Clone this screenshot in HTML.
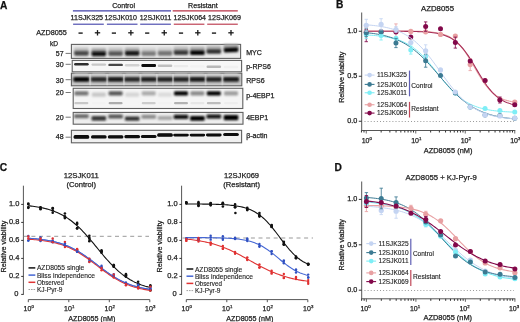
<!DOCTYPE html>
<html><head><meta charset="utf-8"><style>
html,body{margin:0;padding:0;background:#fff;width:520px;height:322px;overflow:hidden}
svg{display:block;font-family:"Liberation Sans", sans-serif;will-change:transform}
</style></head><body>
<svg width="520" height="322" viewBox="0 0 520 322">
<rect width="520" height="322" fill="#fff"/>
<text x="0" y="8.6" font-size="10.2" text-anchor="start" font-weight="bold" fill="#111" stroke="#111" stroke-width="0.25" >A</text>
<text x="336.0" y="8.3" font-size="10.2" text-anchor="start" font-weight="bold" fill="#111" stroke="#111" stroke-width="0.25" >B</text>
<text x="-0.2" y="171.0" font-size="10.2" text-anchor="start" font-weight="bold" fill="#111" stroke="#111" stroke-width="0.25" >C</text>
<text x="334.6" y="170.7" font-size="10.2" text-anchor="start" font-weight="bold" fill="#111" stroke="#111" stroke-width="0.25" >D</text>
<text x="112.2" y="7.6" font-size="7.1" text-anchor="start" font-weight="normal" fill="#1e1e1e" stroke="#1e1e1e" stroke-width="0.25" textLength="22.8" lengthAdjust="spacingAndGlyphs" >Control</text>
<text x="188.1" y="7.7" font-size="7.1" text-anchor="start" font-weight="normal" fill="#1e1e1e" stroke="#1e1e1e" stroke-width="0.25" textLength="29.6" lengthAdjust="spacingAndGlyphs" >Resistant</text>
<line x1="72.9" y1="10.9" x2="171.0" y2="10.9" stroke="#4040a8" stroke-width="1.1" />
<line x1="172.7" y1="10.9" x2="237.8" y2="10.9" stroke="#b83246" stroke-width="1.1" />
<text x="70.6" y="20.2" font-size="7.2" text-anchor="start" font-weight="normal" fill="#1e1e1e" stroke="#1e1e1e" stroke-width="0.25" textLength="32.5" lengthAdjust="spacingAndGlyphs" >11SJK325</text>
<text x="104.4" y="20.2" font-size="7.2" text-anchor="start" font-weight="normal" fill="#1e1e1e" stroke="#1e1e1e" stroke-width="0.25" textLength="32.5" lengthAdjust="spacingAndGlyphs" >12SJK010</text>
<text x="139.7" y="20.2" font-size="7.2" text-anchor="start" font-weight="normal" fill="#1e1e1e" stroke="#1e1e1e" stroke-width="0.25" textLength="31.6" lengthAdjust="spacingAndGlyphs" >12SJK011</text>
<text x="173.5" y="20.2" font-size="7.2" text-anchor="start" font-weight="normal" fill="#1e1e1e" stroke="#1e1e1e" stroke-width="0.25" textLength="32.5" lengthAdjust="spacingAndGlyphs" >12SJK064</text>
<text x="208.1" y="20.2" font-size="7.2" text-anchor="start" font-weight="normal" fill="#1e1e1e" stroke="#1e1e1e" stroke-width="0.25" textLength="32.9" lengthAdjust="spacingAndGlyphs" >12SJK069</text>
<line x1="73.1" y1="24.2" x2="103.8" y2="24.2" stroke="#4040a8" stroke-width="1.1" />
<line x1="106.9" y1="24.2" x2="137.5" y2="24.2" stroke="#4040a8" stroke-width="1.1" />
<line x1="140.2" y1="24.2" x2="170.9" y2="24.2" stroke="#4040a8" stroke-width="1.1" />
<line x1="173.8" y1="24.2" x2="204.4" y2="24.2" stroke="#b83246" stroke-width="1.1" />
<line x1="207.2" y1="24.2" x2="237.8" y2="24.2" stroke="#b83246" stroke-width="1.1" />
<text x="36.2" y="34.7" font-size="7.2" text-anchor="start" font-weight="normal" fill="#1e1e1e" stroke="#1e1e1e" stroke-width="0.25" textLength="30.7" lengthAdjust="spacingAndGlyphs" >AZD8055</text>
<line x1="78.5" y1="33.1" x2="82.69999999999999" y2="33.1" stroke="#1a1a1a" stroke-width="1.4" />
<line x1="94.8" y1="32.8" x2="100.2" y2="32.8" stroke="#1a1a1a" stroke-width="1.3" />
<line x1="97.5" y1="30.1" x2="97.5" y2="35.5" stroke="#1a1a1a" stroke-width="1.3" />
<line x1="111.80000000000001" y1="33.1" x2="116.0" y2="33.1" stroke="#1a1a1a" stroke-width="1.4" />
<line x1="128.20000000000002" y1="32.8" x2="133.6" y2="32.8" stroke="#1a1a1a" stroke-width="1.3" />
<line x1="130.9" y1="30.1" x2="130.9" y2="35.5" stroke="#1a1a1a" stroke-width="1.3" />
<line x1="145.1" y1="33.1" x2="149.29999999999998" y2="33.1" stroke="#1a1a1a" stroke-width="1.4" />
<line x1="161.55" y1="32.8" x2="166.95" y2="32.8" stroke="#1a1a1a" stroke-width="1.3" />
<line x1="164.25" y1="30.1" x2="164.25" y2="35.5" stroke="#1a1a1a" stroke-width="1.3" />
<line x1="178.9" y1="33.1" x2="183.1" y2="33.1" stroke="#1a1a1a" stroke-width="1.4" />
<line x1="195.10000000000002" y1="32.8" x2="200.5" y2="32.8" stroke="#1a1a1a" stroke-width="1.3" />
<line x1="197.8" y1="30.1" x2="197.8" y2="35.5" stroke="#1a1a1a" stroke-width="1.3" />
<line x1="211.9" y1="33.1" x2="216.1" y2="33.1" stroke="#1a1a1a" stroke-width="1.4" />
<line x1="228.3" y1="32.8" x2="233.7" y2="32.8" stroke="#1a1a1a" stroke-width="1.3" />
<line x1="231.0" y1="30.1" x2="231.0" y2="35.5" stroke="#1a1a1a" stroke-width="1.3" />
<text x="50.0" y="45.7" font-size="7.0" text-anchor="start" font-weight="normal" fill="#1e1e1e" stroke="#1e1e1e" stroke-width="0.25" textLength="8.1" lengthAdjust="spacingAndGlyphs" >kD</text>
<text x="63.6" y="55.7" font-size="7.0" text-anchor="end" font-weight="normal" fill="#1e1e1e" stroke="#1e1e1e" stroke-width="0.25" >57</text>
<line x1="65.6" y1="53.4" x2="70.8" y2="53.4" stroke="#666" stroke-width="0.9" />
<text x="63.6" y="67.0" font-size="7.0" text-anchor="end" font-weight="normal" fill="#1e1e1e" stroke="#1e1e1e" stroke-width="0.25" >30</text>
<line x1="65.6" y1="64.3" x2="70.8" y2="64.3" stroke="#666" stroke-width="0.9" />
<text x="63.6" y="82.7" font-size="7.0" text-anchor="end" font-weight="normal" fill="#1e1e1e" stroke="#1e1e1e" stroke-width="0.25" >30</text>
<line x1="65.6" y1="79.7" x2="70.8" y2="79.7" stroke="#666" stroke-width="0.9" />
<text x="63.6" y="94.7" font-size="7.0" text-anchor="end" font-weight="normal" fill="#1e1e1e" stroke="#1e1e1e" stroke-width="0.25" >20</text>
<line x1="65.6" y1="92.5" x2="70.8" y2="92.5" stroke="#666" stroke-width="0.9" />
<text x="63.6" y="119.7" font-size="7.0" text-anchor="end" font-weight="normal" fill="#1e1e1e" stroke="#1e1e1e" stroke-width="0.25" >20</text>
<line x1="65.6" y1="117.2" x2="70.8" y2="117.2" stroke="#666" stroke-width="0.9" />
<text x="63.6" y="139.4" font-size="7.0" text-anchor="end" font-weight="normal" fill="#1e1e1e" stroke="#1e1e1e" stroke-width="0.25" >48</text>
<line x1="65.6" y1="137.2" x2="70.8" y2="137.2" stroke="#666" stroke-width="0.9" />
<defs>
<filter id="b1" x="-30%" y="-80%" width="160%" height="260%"><feGaussianBlur stdDeviation="0.7"/></filter>
<filter id="b2" x="-30%" y="-80%" width="160%" height="260%"><feGaussianBlur stdDeviation="1.3"/></filter>
<filter id="b10" x="-30%" y="-80%" width="160%" height="260%"><feGaussianBlur stdDeviation="1.0"/></filter>
<filter id="b05" x="-30%" y="-80%" width="160%" height="260%"><feGaussianBlur stdDeviation="0.6"/></filter>
<linearGradient id="gMYC" x1="0" y1="0" x2="0" y2="1"><stop offset="0" stop-color="#f2f2f2"/><stop offset="0.5" stop-color="#d8d8d8"/><stop offset="1" stop-color="#e4e4e4"/></linearGradient>
<linearGradient id="gRPS" x1="0" y1="0" x2="0" y2="1"><stop offset="0" stop-color="#e6e6e6"/><stop offset="0.45" stop-color="#b8b8b8"/><stop offset="1" stop-color="#cfcfcf"/></linearGradient>
<linearGradient id="g4E" x1="0" y1="0" x2="0" y2="1"><stop offset="0" stop-color="#eeeeee"/><stop offset="0.5" stop-color="#dcdcdc"/><stop offset="1" stop-color="#ececec"/></linearGradient>
<linearGradient id="gAct" x1="0" y1="0" x2="0" y2="1"><stop offset="0" stop-color="#f0f0f0"/><stop offset="0.55" stop-color="#dedede"/><stop offset="1" stop-color="#efefef"/></linearGradient>
</defs>
<rect x="71.4" y="44.4" width="169.2" height="14.0" fill="#ececec" stroke="#606060" stroke-width="1.1"/>
<rect x="73.9" y="47.4" width="15.0" height="6.0" rx="1.2" fill="rgb(191,191,191)" filter="url(#b2)"/>
<rect x="74.2" y="51.1" width="14.4" height="4.6" rx="1.2" fill="rgb(71,71,71)" filter="url(#b10)"/>
<rect x="91.3" y="47.9" width="15.0" height="6.0" rx="1.2" fill="rgb(170,170,170)" filter="url(#b2)"/>
<rect x="91.6" y="51.6" width="14.4" height="4.6" rx="1.2" fill="rgb(13,13,13)" filter="url(#b10)"/>
<rect x="108.1" y="47.6" width="15.0" height="6.0" rx="1.2" fill="rgb(196,196,196)" filter="url(#b2)"/>
<rect x="108.4" y="51.3" width="14.4" height="4.6" rx="1.2" fill="rgb(87,87,87)" filter="url(#b10)"/>
<rect x="124.7" y="47.4" width="15.0" height="6.0" rx="1.2" fill="rgb(175,175,175)" filter="url(#b2)"/>
<rect x="125.0" y="51.1" width="14.4" height="4.6" rx="1.2" fill="rgb(25,25,25)" filter="url(#b10)"/>
<rect x="141.2" y="47.6" width="15.0" height="6.0" rx="1.2" fill="rgb(209,209,209)" filter="url(#b2)"/>
<rect x="141.5" y="51.3" width="14.4" height="4.6" rx="1.2" fill="rgb(122,122,122)" filter="url(#b10)"/>
<rect x="157.5" y="47.4" width="15.0" height="6.0" rx="1.2" fill="rgb(206,206,206)" filter="url(#b2)"/>
<rect x="157.8" y="51.1" width="14.4" height="4.6" rx="1.2" fill="rgb(115,115,115)" filter="url(#b10)"/>
<rect x="173.5" y="46.6" width="15.0" height="6.0" rx="1.2" fill="rgb(185,185,185)" filter="url(#b2)"/>
<rect x="173.8" y="50.3" width="14.4" height="4.6" rx="1.2" fill="rgb(56,56,56)" filter="url(#b10)"/>
<rect x="189.9" y="46.8" width="15.0" height="6.0" rx="1.2" fill="rgb(168,168,168)" filter="url(#b2)"/>
<rect x="190.2" y="50.5" width="14.4" height="4.6" rx="1.2" fill="rgb(5,5,5)" filter="url(#b10)"/>
<rect x="206.3" y="45.5" width="15.0" height="6.0" rx="1.2" fill="rgb(182,182,182)" filter="url(#b2)"/>
<rect x="206.6" y="49.2" width="14.4" height="4.6" rx="1.2" fill="rgb(46,46,46)" filter="url(#b10)"/>
<rect x="223.5" y="44.0" width="15.0" height="6.0" rx="1.2" fill="rgb(168,168,168)" filter="url(#b2)"/>
<rect x="223.8" y="47.7" width="14.4" height="4.6" rx="1.2" fill="rgb(5,5,5)" filter="url(#b10)" transform="rotate(-2.5 231.0 50.0)"/>
<rect x="72.2" y="60.4" width="169.4" height="11.4" fill="#f7f7f7" stroke="#606060" stroke-width="1.1"/>
<rect x="74.1" y="63.1" width="14.6" height="2.4" rx="1.2" fill="rgb(46,46,46)" filter="url(#b05)"/>
<rect x="91.5" y="63.4" width="14.6" height="2.4" rx="1.2" fill="rgb(199,199,199)" filter="url(#b05)"/>
<rect x="108.3" y="63.7" width="14.6" height="2.4" rx="1.2" fill="rgb(71,71,71)" filter="url(#b05)"/>
<rect x="124.9" y="64.0" width="14.6" height="2.4" rx="1.2" fill="rgb(209,209,209)" filter="url(#b05)"/>
<rect x="141.4" y="64.05" width="14.6" height="2.9" rx="1.2" fill="rgb(8,8,8)" filter="url(#b05)"/>
<rect x="157.7" y="64.6" width="14.6" height="2.4" rx="1.2" fill="rgb(191,191,191)" filter="url(#b05)"/>
<rect x="173.7" y="64.9" width="14.6" height="2.4" rx="1.2" fill="rgb(235,235,235)" filter="url(#b05)"/>
<rect x="190.1" y="65.2" width="14.6" height="2.4" rx="1.2" fill="rgb(242,242,242)" filter="url(#b05)"/>
<rect x="206.5" y="65.5" width="14.6" height="2.4" rx="1.2" fill="rgb(184,184,184)" filter="url(#b05)"/>
<rect x="223.7" y="65.8" width="14.6" height="2.4" rx="1.2" fill="rgb(240,240,240)" filter="url(#b05)"/>
<rect x="71.4" y="73.2" width="170.4" height="12.6" fill="#c8c8c8" stroke="#606060" stroke-width="1.1"/>
<rect x="73.9" y="73.5" width="15.0" height="3.4" rx="1.2" fill="rgb(209,209,209)" filter="url(#b2)"/>
<rect x="73.4" y="77.0" width="16.0" height="4.8" rx="1.2" fill="rgb(3,3,3)" filter="url(#b10)"/>
<rect x="91.3" y="73.5" width="15.0" height="3.4" rx="1.2" fill="rgb(209,209,209)" filter="url(#b2)"/>
<rect x="90.8" y="77.0" width="16.0" height="4.8" rx="1.2" fill="rgb(38,38,38)" filter="url(#b10)"/>
<rect x="108.1" y="73.5" width="15.0" height="3.4" rx="1.2" fill="rgb(209,209,209)" filter="url(#b2)"/>
<rect x="107.6" y="77.0" width="16.0" height="4.8" rx="1.2" fill="rgb(25,25,25)" filter="url(#b10)"/>
<rect x="124.7" y="73.5" width="15.0" height="3.4" rx="1.2" fill="rgb(209,209,209)" filter="url(#b2)"/>
<rect x="124.2" y="77.0" width="16.0" height="4.8" rx="1.2" fill="rgb(38,38,38)" filter="url(#b10)"/>
<rect x="141.2" y="73.5" width="15.0" height="3.4" rx="1.2" fill="rgb(209,209,209)" filter="url(#b2)"/>
<rect x="140.7" y="77.0" width="16.0" height="4.8" rx="1.2" fill="rgb(31,31,31)" filter="url(#b10)"/>
<rect x="157.5" y="73.5" width="15.0" height="3.4" rx="1.2" fill="rgb(209,209,209)" filter="url(#b2)"/>
<rect x="157.0" y="77.0" width="16.0" height="4.8" rx="1.2" fill="rgb(36,36,36)" filter="url(#b10)"/>
<rect x="173.5" y="73.5" width="15.0" height="3.4" rx="1.2" fill="rgb(209,209,209)" filter="url(#b2)"/>
<rect x="173.0" y="77.0" width="16.0" height="4.8" rx="1.2" fill="rgb(36,36,36)" filter="url(#b10)"/>
<rect x="189.9" y="73.5" width="15.0" height="3.4" rx="1.2" fill="rgb(209,209,209)" filter="url(#b2)"/>
<rect x="189.4" y="77.0" width="16.0" height="4.8" rx="1.2" fill="rgb(25,25,25)" filter="url(#b10)"/>
<rect x="206.3" y="73.5" width="15.0" height="3.4" rx="1.2" fill="rgb(209,209,209)" filter="url(#b2)"/>
<rect x="205.8" y="77.0" width="16.0" height="4.8" rx="1.2" fill="rgb(36,36,36)" filter="url(#b10)"/>
<rect x="223.5" y="73.5" width="15.0" height="3.4" rx="1.2" fill="rgb(209,209,209)" filter="url(#b2)"/>
<rect x="223.0" y="77.0" width="16.0" height="4.8" rx="1.2" fill="rgb(20,20,20)" filter="url(#b10)"/>
<rect x="89.2" y="73.8" width="1.8" height="11.5" fill="#e8e8e8" opacity="0.45" filter="url(#b05)"/>
<rect x="106.3" y="73.8" width="1.8" height="11.5" fill="#e8e8e8" opacity="0.45" filter="url(#b05)"/>
<rect x="123.0" y="73.8" width="1.8" height="11.5" fill="#e8e8e8" opacity="0.45" filter="url(#b05)"/>
<rect x="139.55" y="73.8" width="1.8" height="11.5" fill="#e8e8e8" opacity="0.45" filter="url(#b05)"/>
<rect x="155.95" y="73.8" width="1.8" height="11.5" fill="#e8e8e8" opacity="0.45" filter="url(#b05)"/>
<rect x="172.1" y="73.8" width="1.8" height="11.5" fill="#e8e8e8" opacity="0.45" filter="url(#b05)"/>
<rect x="188.3" y="73.8" width="1.8" height="11.5" fill="#e8e8e8" opacity="0.45" filter="url(#b05)"/>
<rect x="204.7" y="73.8" width="1.8" height="11.5" fill="#e8e8e8" opacity="0.45" filter="url(#b05)"/>
<rect x="221.5" y="73.8" width="1.8" height="11.5" fill="#e8e8e8" opacity="0.45" filter="url(#b05)"/>
<rect x="73.2" y="88.3" width="169.6" height="20.2" fill="#f5f5f5" stroke="#606060" stroke-width="1.1"/>
<rect x="74.4" y="91.3" width="14.0" height="4.2" rx="1.2" fill="rgb(115,115,115)" filter="url(#b2)"/>
<rect x="74.4" y="102.1" width="14.0" height="2.2" rx="1.2" fill="rgb(199,199,199)" filter="url(#b1)"/>
<rect x="91.8" y="92.5" width="14.0" height="4.2" rx="1.2" fill="rgb(199,199,199)" filter="url(#b2)"/>
<rect x="91.8" y="102.1" width="14.0" height="2.2" rx="1.2" fill="rgb(242,242,242)" filter="url(#b1)"/>
<rect x="108.6" y="91.3" width="14.0" height="4.2" rx="1.2" fill="rgb(87,87,87)" filter="url(#b2)"/>
<rect x="108.6" y="102.1" width="14.0" height="2.2" rx="1.2" fill="rgb(173,173,173)" filter="url(#b1)"/>
<rect x="125.2" y="92.5" width="14.0" height="4.2" rx="1.2" fill="rgb(213,213,213)" filter="url(#b2)"/>
<rect x="125.2" y="102.1" width="14.0" height="2.2" rx="1.2" fill="rgb(245,245,245)" filter="url(#b1)"/>
<rect x="141.7" y="91.3" width="14.0" height="4.2" rx="1.2" fill="rgb(171,171,171)" filter="url(#b2)"/>
<rect x="141.7" y="102.1" width="14.0" height="2.2" rx="1.2" fill="rgb(204,204,204)" filter="url(#b1)"/>
<rect x="158.0" y="92.5" width="14.0" height="4.2" rx="1.2" fill="rgb(219,219,219)" filter="url(#b2)"/>
<rect x="158.0" y="102.1" width="14.0" height="2.2" rx="1.2" fill="rgb(242,242,242)" filter="url(#b1)"/>
<rect x="174.0" y="91.3" width="14.0" height="4.2" rx="1.2" fill="rgb(0,0,0)" filter="url(#b2)"/>
<rect x="174.0" y="102.1" width="14.0" height="2.2" rx="1.2" fill="rgb(178,178,178)" filter="url(#b1)"/>
<rect x="190.4" y="91.3" width="14.0" height="4.2" rx="1.2" fill="rgb(137,137,137)" filter="url(#b2)"/>
<rect x="190.4" y="102.1" width="14.0" height="2.2" rx="1.2" fill="rgb(230,230,230)" filter="url(#b1)"/>
<rect x="206.8" y="91.3" width="14.0" height="4.2" rx="1.2" fill="rgb(0,0,0)" filter="url(#b2)"/>
<rect x="206.8" y="102.1" width="14.0" height="2.2" rx="1.2" fill="rgb(189,189,189)" filter="url(#b1)"/>
<rect x="224.0" y="91.3" width="14.0" height="4.2" rx="1.2" fill="rgb(157,157,157)" filter="url(#b2)"/>
<rect x="224.0" y="102.1" width="14.0" height="2.2" rx="1.2" fill="rgb(237,237,237)" filter="url(#b1)"/>
<rect x="73.2" y="112.4" width="169.8" height="11.8" fill="#eeeeee" stroke="#606060" stroke-width="1.1"/>
<rect x="74.1" y="114.3" width="14.6" height="4.0" rx="1.2" fill="rgb(104,104,104)" filter="url(#b2)"/>
<rect x="91.5" y="116.1" width="14.6" height="4.6" rx="1.2" fill="rgb(57,57,57)" filter="url(#b2)"/>
<rect x="108.3" y="114.6" width="14.6" height="4.0" rx="1.2" fill="rgb(84,84,84)" filter="url(#b2)"/>
<rect x="124.9" y="116.4" width="14.6" height="4.4" rx="1.2" fill="rgb(48,48,48)" filter="url(#b2)"/>
<rect x="141.4" y="114.8" width="14.6" height="4.0" rx="1.2" fill="rgb(139,139,139)" filter="url(#b2)"/>
<rect x="157.7" y="116.0" width="14.6" height="4.0" rx="1.2" fill="rgb(167,167,167)" filter="url(#b2)"/>
<rect x="173.7" y="114.7" width="14.6" height="4.2" rx="1.2" fill="rgb(7,7,7)" filter="url(#b2)"/>
<rect x="190.1" y="116.0" width="14.6" height="4.8" rx="1.2" fill="rgb(0,0,0)" filter="url(#b2)"/>
<rect x="206.5" y="114.6" width="14.6" height="4.0" rx="1.2" fill="rgb(7,7,7)" filter="url(#b2)"/>
<rect x="223.7" y="115.0" width="14.6" height="5.2" rx="1.2" fill="rgb(0,0,0)" filter="url(#b2)"/>
<rect x="71.4" y="130.3" width="170.2" height="12.5" fill="#f0f0f0" stroke="#606060" stroke-width="1.1"/>
<rect x="73.6" y="135.1" width="15.6" height="3.6" rx="1.5" fill="rgb(8,8,8)" filter="url(#b05)"/>
<rect x="91.0" y="135.2" width="15.6" height="3.4" rx="1.5" fill="rgb(8,8,8)" filter="url(#b05)"/>
<rect x="107.8" y="135.2" width="15.6" height="3.2" rx="1.5" fill="rgb(8,8,8)" filter="url(#b05)"/>
<rect x="124.4" y="135.05" width="15.6" height="3.3" rx="1.5" fill="rgb(8,8,8)" filter="url(#b05)"/>
<rect x="140.9" y="134.9" width="15.6" height="3.2" rx="1.5" fill="rgb(8,8,8)" filter="url(#b05)"/>
<rect x="157.2" y="133.2" width="15.6" height="3.6" rx="1.5" fill="rgb(8,8,8)" filter="url(#b05)"/>
<rect x="173.2" y="133.7" width="15.6" height="2.8" rx="1.5" fill="rgb(8,8,8)" filter="url(#b05)"/>
<rect x="189.6" y="133.65" width="15.6" height="2.9" rx="1.5" fill="rgb(8,8,8)" filter="url(#b05)"/>
<rect x="206.0" y="133.55" width="15.6" height="2.9" rx="1.5" fill="rgb(8,8,8)" filter="url(#b05)"/>
<rect x="223.2" y="132.9" width="15.6" height="3.0" rx="1.5" fill="rgb(8,8,8)" filter="url(#b05)"/>
<text x="246.2" y="54.7" font-size="7.05" text-anchor="start" font-weight="normal" fill="#1e1e1e" stroke="#1e1e1e" stroke-width="0.25" >MYC</text>
<text x="246.2" y="69.3" font-size="7.05" text-anchor="start" font-weight="normal" fill="#1e1e1e" stroke="#1e1e1e" stroke-width="0.25" >p-RPS6</text>
<text x="246.2" y="83.0" font-size="7.05" text-anchor="start" font-weight="normal" fill="#1e1e1e" stroke="#1e1e1e" stroke-width="0.25" >RPS6</text>
<text x="246.2" y="98.1" font-size="7.05" text-anchor="start" font-weight="normal" fill="#1e1e1e" stroke="#1e1e1e" stroke-width="0.25" >p-4EBP1</text>
<text x="246.2" y="120.4" font-size="7.05" text-anchor="start" font-weight="normal" fill="#1e1e1e" stroke="#1e1e1e" stroke-width="0.25" >4EBP1</text>
<text x="246.2" y="137.7" font-size="7.05" text-anchor="start" font-weight="normal" fill="#1e1e1e" stroke="#1e1e1e" stroke-width="0.25" >β-actin</text>
<text x="421.0" y="10.6" font-size="7.8" text-anchor="start" font-weight="normal" fill="#1e1e1e" stroke="#1e1e1e" stroke-width="0.25" textLength="33.0" lengthAdjust="spacingAndGlyphs" >AZD8055</text>
<line x1="361.7" y1="12.5" x2="361.7" y2="130.6" stroke="#555" stroke-width="1.0" />
<line x1="361.2" y1="130.5" x2="515.3" y2="130.5" stroke="#555" stroke-width="1.0" />
<line x1="358.8" y1="31.25" x2="361.7" y2="31.25" stroke="#333" stroke-width="1.0" />
<text x="357.4" y="33.25" font-size="7.3" text-anchor="end" font-weight="normal" fill="#1e1e1e" stroke="#1e1e1e" stroke-width="0.25" >1.0</text>
<line x1="358.8" y1="76.25" x2="361.7" y2="76.25" stroke="#333" stroke-width="1.0" />
<text x="357.4" y="78.25" font-size="7.3" text-anchor="end" font-weight="normal" fill="#1e1e1e" stroke="#1e1e1e" stroke-width="0.25" >0.5</text>
<line x1="358.8" y1="121.25" x2="361.7" y2="121.25" stroke="#333" stroke-width="1.0" />
<text x="357.4" y="123.25" font-size="7.3" text-anchor="end" font-weight="normal" fill="#1e1e1e" stroke="#1e1e1e" stroke-width="0.25" >0.0</text>
<line x1="366.25" y1="130.5" x2="366.25" y2="133.5" stroke="#555" stroke-width="0.9" />
<line x1="415.75" y1="130.5" x2="415.75" y2="133.5" stroke="#555" stroke-width="0.9" />
<line x1="465.25" y1="130.5" x2="465.25" y2="133.5" stroke="#555" stroke-width="0.9" />
<line x1="514.75" y1="130.5" x2="514.75" y2="133.5" stroke="#555" stroke-width="0.9" />
<line x1="361.4529543561012" y1="130.5" x2="361.4529543561012" y2="132.5" stroke="#333" stroke-width="1.0" />
<line x1="363.98500421724657" y1="130.5" x2="363.98500421724657" y2="132.5" stroke="#333" stroke-width="1.0" />
<line x1="381.1509847853671" y1="130.5" x2="381.1509847853671" y2="132.5" stroke="#333" stroke-width="1.0" />
<line x1="389.8675021086233" y1="130.5" x2="389.8675021086233" y2="132.5" stroke="#333" stroke-width="1.0" />
<line x1="396.0519695707341" y1="130.5" x2="396.0519695707341" y2="132.5" stroke="#333" stroke-width="1.0" />
<line x1="400.8490152146329" y1="130.5" x2="400.8490152146329" y2="132.5" stroke="#333" stroke-width="1.0" />
<line x1="404.76848689399037" y1="130.5" x2="404.76848689399037" y2="132.5" stroke="#333" stroke-width="1.0" />
<line x1="408.0823529807057" y1="130.5" x2="408.0823529807057" y2="132.5" stroke="#333" stroke-width="1.0" />
<line x1="410.9529543561012" y1="130.5" x2="410.9529543561012" y2="132.5" stroke="#333" stroke-width="1.0" />
<line x1="413.48500421724657" y1="130.5" x2="413.48500421724657" y2="132.5" stroke="#333" stroke-width="1.0" />
<line x1="430.6509847853671" y1="130.5" x2="430.6509847853671" y2="132.5" stroke="#333" stroke-width="1.0" />
<line x1="439.3675021086233" y1="130.5" x2="439.3675021086233" y2="132.5" stroke="#333" stroke-width="1.0" />
<line x1="445.5519695707342" y1="130.5" x2="445.5519695707342" y2="132.5" stroke="#333" stroke-width="1.0" />
<line x1="450.3490152146329" y1="130.5" x2="450.3490152146329" y2="132.5" stroke="#333" stroke-width="1.0" />
<line x1="454.26848689399037" y1="130.5" x2="454.26848689399037" y2="132.5" stroke="#333" stroke-width="1.0" />
<line x1="457.5823529807057" y1="130.5" x2="457.5823529807057" y2="132.5" stroke="#333" stroke-width="1.0" />
<line x1="460.4529543561012" y1="130.5" x2="460.4529543561012" y2="132.5" stroke="#333" stroke-width="1.0" />
<line x1="462.98500421724657" y1="130.5" x2="462.98500421724657" y2="132.5" stroke="#333" stroke-width="1.0" />
<line x1="480.1509847853671" y1="130.5" x2="480.1509847853671" y2="132.5" stroke="#333" stroke-width="1.0" />
<line x1="488.8675021086233" y1="130.5" x2="488.8675021086233" y2="132.5" stroke="#333" stroke-width="1.0" />
<line x1="495.0519695707342" y1="130.5" x2="495.0519695707342" y2="132.5" stroke="#333" stroke-width="1.0" />
<line x1="499.8490152146329" y1="130.5" x2="499.8490152146329" y2="132.5" stroke="#333" stroke-width="1.0" />
<line x1="503.76848689399037" y1="130.5" x2="503.76848689399037" y2="132.5" stroke="#333" stroke-width="1.0" />
<line x1="507.0823529807057" y1="130.5" x2="507.0823529807057" y2="132.5" stroke="#333" stroke-width="1.0" />
<line x1="509.9529543561012" y1="130.5" x2="509.9529543561012" y2="132.5" stroke="#333" stroke-width="1.0" />
<line x1="512.4850042172466" y1="130.5" x2="512.4850042172466" y2="132.5" stroke="#333" stroke-width="1.0" />
<text x="361.65" y="143.1" font-size="7.0" text-anchor="start" font-weight="normal" fill="#1e1e1e" stroke="#1e1e1e" stroke-width="0.25" >10</text>
<text x="369.62" y="140.2" font-size="4.3" text-anchor="start" font-weight="normal" fill="#1e1e1e" stroke="#1e1e1e" stroke-width="0.25" >0</text>
<text x="411.15" y="143.1" font-size="7.0" text-anchor="start" font-weight="normal" fill="#1e1e1e" stroke="#1e1e1e" stroke-width="0.25" >10</text>
<text x="419.12" y="140.2" font-size="4.3" text-anchor="start" font-weight="normal" fill="#1e1e1e" stroke="#1e1e1e" stroke-width="0.25" >1</text>
<text x="460.65" y="143.1" font-size="7.0" text-anchor="start" font-weight="normal" fill="#1e1e1e" stroke="#1e1e1e" stroke-width="0.25" >10</text>
<text x="468.62" y="140.2" font-size="4.3" text-anchor="start" font-weight="normal" fill="#1e1e1e" stroke="#1e1e1e" stroke-width="0.25" >2</text>
<text x="510.15" y="143.1" font-size="7.0" text-anchor="start" font-weight="normal" fill="#1e1e1e" stroke="#1e1e1e" stroke-width="0.25" >10</text>
<text x="518.12" y="140.2" font-size="4.3" text-anchor="start" font-weight="normal" fill="#1e1e1e" stroke="#1e1e1e" stroke-width="0.25" >3</text>
<text x="423.8" y="152.6" font-size="7.2" text-anchor="start" font-weight="normal" fill="#1e1e1e" stroke="#1e1e1e" stroke-width="0.25" textLength="48.6" lengthAdjust="spacingAndGlyphs" >AZD8055 (nM)</text>
<text x="344.3" y="77.2" font-size="7.0" text-anchor="middle" font-weight="normal" fill="#1e1e1e" stroke="#1e1e1e" stroke-width="0.25" textLength="51.2" lengthAdjust="spacingAndGlyphs" transform="rotate(-90 344.3 77.2)">Relative viability</text>
<line x1="364.5" y1="121.5" x2="514" y2="121.5" stroke="#999" stroke-width="1.0" stroke-dasharray="1 2.1"/>
<path d="M366.25,30.99 L368.11,30.99 L369.96,30.99 L371.82,30.99 L373.68,30.99 L375.53,30.99 L377.39,30.99 L379.24,30.99 L381.10,30.99 L382.96,31.00 L384.81,31.00 L386.67,31.00 L388.52,31.00 L390.38,31.01 L392.24,31.01 L394.09,31.02 L395.95,31.02 L397.81,31.03 L399.66,31.04 L401.52,31.05 L403.38,31.06 L405.23,31.07 L407.09,31.09 L408.94,31.11 L410.80,31.14 L412.66,31.17 L414.51,31.20 L416.37,31.24 L418.23,31.30 L420.08,31.36 L421.94,31.43 L423.79,31.52 L425.65,31.62 L427.51,31.74 L429.36,31.89 L431.22,32.06 L433.07,32.27 L434.93,32.52 L436.79,32.82 L438.64,33.17 L440.50,33.58 L442.36,34.07 L444.21,34.65 L446.07,35.33 L447.93,36.12 L449.78,37.05 L451.64,38.12 L453.49,39.37 L455.35,40.80 L457.21,42.42 L459.06,44.26 L460.92,46.33 L462.77,48.61 L464.63,51.12 L466.49,53.84 L468.34,56.74 L470.20,59.80 L472.06,62.97 L473.91,66.21 L475.77,69.47 L477.62,72.69 L479.48,75.82 L481.34,78.83 L483.19,81.67 L485.05,84.31 L486.91,86.74 L488.76,88.94 L490.62,90.92 L492.48,92.68 L494.33,94.24 L496.19,95.59 L498.04,96.78 L499.90,97.80 L501.76,98.67 L503.61,99.42 L505.47,100.06 L507.33,100.61 L509.18,101.07 L511.04,101.46 L512.89,101.78 L514.75,102.06" fill="none" stroke="#e8a0a2" stroke-width="1.1" />
<path d="M366.25,31.21 L368.11,31.21 L369.96,31.22 L371.82,31.22 L373.68,31.22 L375.53,31.22 L377.39,31.22 L379.24,31.22 L381.10,31.23 L382.96,31.23 L384.81,31.23 L386.67,31.23 L388.52,31.24 L390.38,31.24 L392.24,31.25 L394.09,31.26 L395.95,31.27 L397.81,31.28 L399.66,31.29 L401.52,31.30 L403.38,31.32 L405.23,31.34 L407.09,31.36 L408.94,31.39 L410.80,31.42 L412.66,31.46 L414.51,31.50 L416.37,31.56 L418.23,31.62 L420.08,31.69 L421.94,31.78 L423.79,31.88 L425.65,32.00 L427.51,32.14 L429.36,32.31 L431.22,32.51 L433.07,32.74 L434.93,33.01 L436.79,33.32 L438.64,33.69 L440.50,34.12 L442.36,34.62 L444.21,35.21 L446.07,35.89 L447.93,36.67 L449.78,37.58 L451.64,38.61 L453.49,39.80 L455.35,41.15 L457.21,42.67 L459.06,44.39 L460.92,46.30 L462.77,48.41 L464.63,50.72 L466.49,53.22 L468.34,55.91 L470.20,58.75 L472.06,61.73 L473.91,64.81 L475.77,67.94 L477.62,71.10 L479.48,74.23 L481.34,77.29 L483.19,80.24 L485.05,83.06 L486.91,85.71 L488.76,88.18 L490.62,90.45 L492.48,92.52 L494.33,94.39 L496.19,96.07 L498.04,97.56 L499.90,98.87 L501.76,100.03 L503.61,101.04 L505.47,101.92 L507.33,102.68 L509.18,103.34 L511.04,103.91 L512.89,104.40 L514.75,104.82" fill="none" stroke="#a8305a" stroke-width="1.1" />
<path d="M366.25,27.50 V35.50 M364.55,27.50 H367.95 M364.55,35.50 H367.95" stroke="#e8a0a2" stroke-width="0.85" fill="none"/>
<path d="M395.95,23.90 V37.90 M394.25,23.90 H397.65 M394.25,37.90 H397.65" stroke="#e8a0a2" stroke-width="0.85" fill="none"/>
<path d="M470.20,58.60 V70.60 M468.50,58.60 H471.90 M468.50,70.60 H471.90" stroke="#e8a0a2" stroke-width="0.85" fill="none"/>
<circle cx="366.25" cy="31.50" r="2.6" fill="#e8a0a2"/>
<circle cx="381.10" cy="31.50" r="2.6" fill="#e8a0a2"/>
<circle cx="395.95" cy="30.90" r="2.6" fill="#e8a0a2"/>
<circle cx="410.80" cy="31.40" r="2.6" fill="#e8a0a2"/>
<circle cx="425.65" cy="31.80" r="2.6" fill="#e8a0a2"/>
<circle cx="440.50" cy="34.40" r="2.6" fill="#e8a0a2"/>
<circle cx="455.35" cy="36.00" r="2.6" fill="#e8a0a2"/>
<circle cx="470.20" cy="64.60" r="2.6" fill="#e8a0a2"/>
<circle cx="485.05" cy="80.50" r="2.6" fill="#e8a0a2"/>
<circle cx="499.90" cy="99.50" r="2.6" fill="#e8a0a2"/>
<circle cx="514.75" cy="102.00" r="2.6" fill="#e8a0a2"/>
<path d="M366.25,29.70 V41.70 M364.55,29.70 H367.95 M364.55,41.70 H367.95" stroke="#82084a" stroke-width="0.85" fill="none"/>
<path d="M425.65,21.90 V31.30 M423.95,21.90 H427.35 M423.95,31.30 H427.35" stroke="#82084a" stroke-width="0.85" fill="none"/>
<path d="M455.35,37.10 V48.10 M453.65,37.10 H457.05 M453.65,48.10 H457.05" stroke="#82084a" stroke-width="0.85" fill="none"/>
<path d="M499.90,97.00 V103.00 M498.20,97.00 H501.60 M498.20,103.00 H501.60" stroke="#82084a" stroke-width="0.85" fill="none"/>
<circle cx="366.25" cy="32.70" r="2.5" fill="#82084a"/>
<circle cx="381.10" cy="32.00" r="2.5" fill="#82084a"/>
<circle cx="395.95" cy="32.00" r="2.5" fill="#82084a"/>
<circle cx="410.80" cy="37.00" r="2.5" fill="#82084a"/>
<circle cx="425.65" cy="26.60" r="2.5" fill="#82084a"/>
<circle cx="440.50" cy="28.70" r="2.5" fill="#82084a"/>
<circle cx="455.35" cy="42.60" r="2.5" fill="#82084a"/>
<circle cx="470.20" cy="61.00" r="2.5" fill="#82084a"/>
<circle cx="485.05" cy="80.50" r="2.5" fill="#82084a"/>
<circle cx="499.90" cy="100.00" r="2.5" fill="#82084a"/>
<circle cx="514.75" cy="104.80" r="2.5" fill="#82084a"/>
<path d="M366.25,34.97 L368.11,35.07 L369.96,35.18 L371.82,35.30 L373.68,35.44 L375.53,35.59 L377.39,35.77 L379.24,35.96 L381.10,36.18 L382.96,36.43 L384.81,36.70 L386.67,37.01 L388.52,37.35 L390.38,37.74 L392.24,38.16 L394.09,38.64 L395.95,39.17 L397.81,39.76 L399.66,40.41 L401.52,41.13 L403.38,41.93 L405.23,42.81 L407.09,43.77 L408.94,44.83 L410.80,45.98 L412.66,47.23 L414.51,48.58 L416.37,50.05 L418.23,51.62 L420.08,53.30 L421.94,55.08 L423.79,56.97 L425.65,58.96 L427.51,61.03 L429.36,63.19 L431.22,65.41 L433.07,67.69 L434.93,70.01 L436.79,72.35 L438.64,74.71 L440.50,77.05 L442.36,79.36 L444.21,81.64 L446.07,83.86 L447.93,86.01 L449.78,88.08 L451.64,90.06 L453.49,91.94 L455.35,93.71 L457.21,95.38 L459.06,96.95 L460.92,98.40 L462.77,99.75 L464.63,100.99 L466.49,102.13 L468.34,103.18 L470.20,104.14 L472.06,105.01 L473.91,105.80 L475.77,106.51 L477.62,107.16 L479.48,107.74 L481.34,108.27 L483.19,108.74 L485.05,109.17 L486.91,109.55 L488.76,109.89 L490.62,110.19 L492.48,110.47 L494.33,110.71 L496.19,110.93 L498.04,111.12 L499.90,111.29 L501.76,111.45 L503.61,111.58 L505.47,111.71 L507.33,111.81 L509.18,111.91 L511.04,112.00 L512.89,112.07 L514.75,112.14" fill="none" stroke="#7eeef6" stroke-width="1.0" />
<path d="M366.25,32.64 L368.11,32.84 L369.96,33.05 L371.82,33.29 L373.68,33.55 L375.53,33.84 L377.39,34.15 L379.24,34.49 L381.10,34.87 L382.96,35.27 L384.81,35.72 L386.67,36.20 L388.52,36.72 L390.38,37.29 L392.24,37.91 L394.09,38.58 L395.95,39.31 L397.81,40.09 L399.66,40.94 L401.52,41.85 L403.38,42.83 L405.23,43.88 L407.09,45.00 L408.94,46.20 L410.80,47.48 L412.66,48.83 L414.51,50.27 L416.37,51.78 L418.23,53.38 L420.08,55.05 L421.94,56.79 L423.79,58.61 L425.65,60.50 L427.51,62.44 L429.36,64.45 L431.22,66.50 L433.07,68.59 L434.93,70.71 L436.79,72.86 L438.64,75.01 L440.50,77.17 L442.36,79.33 L444.21,81.47 L446.07,83.58 L447.93,85.65 L449.78,87.68 L451.64,89.66 L453.49,91.58 L455.35,93.44 L457.21,95.23 L459.06,96.94 L460.92,98.58 L462.77,100.14 L464.63,101.62 L466.49,103.02 L468.34,104.35 L470.20,105.59 L472.06,106.75 L473.91,107.85 L475.77,108.87 L477.62,109.82 L479.48,110.70 L481.34,111.52 L483.19,112.28 L485.05,112.98 L486.91,113.63 L488.76,114.22 L490.62,114.77 L492.48,115.28 L494.33,115.75 L496.19,116.17 L498.04,116.56 L499.90,116.92 L501.76,117.25 L503.61,117.55 L505.47,117.83 L507.33,118.08 L509.18,118.31 L511.04,118.52 L512.89,118.71 L514.75,118.89" fill="none" stroke="#3c7a92" stroke-width="1.0" />
<path d="M366.25,24.83 L368.11,24.97 L369.96,25.12 L371.82,25.30 L373.68,25.49 L375.53,25.70 L377.39,25.94 L379.24,26.21 L381.10,26.50 L382.96,26.82 L384.81,27.18 L386.67,27.57 L388.52,28.01 L390.38,28.49 L392.24,29.02 L394.09,29.60 L395.95,30.25 L397.81,30.95 L399.66,31.73 L401.52,32.57 L403.38,33.50 L405.23,34.50 L407.09,35.60 L408.94,36.79 L410.80,38.07 L412.66,39.46 L414.51,40.95 L416.37,42.55 L418.23,44.26 L420.08,46.08 L421.94,48.00 L423.79,50.03 L425.65,52.17 L427.51,54.40 L429.36,56.71 L431.22,59.11 L433.07,61.58 L434.93,64.11 L436.79,66.68 L438.64,69.28 L440.50,71.89 L442.36,74.50 L444.21,77.10 L446.07,79.67 L447.93,82.19 L449.78,84.66 L451.64,87.05 L453.49,89.37 L455.35,91.59 L457.21,93.72 L459.06,95.75 L460.92,97.67 L462.77,99.48 L464.63,101.18 L466.49,102.78 L468.34,104.26 L470.20,105.65 L472.06,106.93 L473.91,108.11 L475.77,109.20 L477.62,110.21 L479.48,111.13 L481.34,111.97 L483.19,112.74 L485.05,113.44 L486.91,114.08 L488.76,114.66 L490.62,115.19 L492.48,115.67 L494.33,116.11 L496.19,116.50 L498.04,116.85 L499.90,117.18 L501.76,117.47 L503.61,117.73 L505.47,117.96 L507.33,118.18 L509.18,118.37 L511.04,118.54 L512.89,118.70 L514.75,118.84" fill="none" stroke="#c4d4f2" stroke-width="1.0" />
<path d="M366.25,30.60 V38.60 M364.55,30.60 H367.95 M364.55,38.60 H367.95" stroke="#7eeef6" stroke-width="0.85" fill="none"/>
<path d="M381.10,31.00 V40.00 M379.40,31.00 H382.80 M379.40,40.00 H382.80" stroke="#7eeef6" stroke-width="0.85" fill="none"/>
<path d="M410.80,46.10 V54.10 M409.10,46.10 H412.50 M409.10,54.10 H412.50" stroke="#7eeef6" stroke-width="0.85" fill="none"/>
<circle cx="366.25" cy="34.60" r="2.5" fill="#7eeef6"/>
<circle cx="381.10" cy="35.50" r="2.5" fill="#7eeef6"/>
<circle cx="395.95" cy="38.30" r="2.5" fill="#7eeef6"/>
<circle cx="410.80" cy="50.10" r="2.5" fill="#7eeef6"/>
<circle cx="425.65" cy="56.40" r="2.5" fill="#7eeef6"/>
<circle cx="455.35" cy="93.00" r="2.5" fill="#7eeef6"/>
<circle cx="470.20" cy="107.00" r="2.5" fill="#7eeef6"/>
<circle cx="485.05" cy="108.40" r="2.5" fill="#7eeef6"/>
<circle cx="499.90" cy="110.40" r="2.5" fill="#7eeef6"/>
<circle cx="514.75" cy="112.00" r="2.5" fill="#7eeef6"/>
<path d="M366.25,28.70 V36.70 M364.55,28.70 H367.95 M364.55,36.70 H367.95" stroke="#3c7a92" stroke-width="0.85" fill="none"/>
<path d="M395.95,38.40 V47.60 M394.25,38.40 H397.65 M394.25,47.60 H397.65" stroke="#3c7a92" stroke-width="0.85" fill="none"/>
<path d="M425.65,54.20 V67.20 M423.95,54.20 H427.35 M423.95,67.20 H427.35" stroke="#3c7a92" stroke-width="0.85" fill="none"/>
<circle cx="366.25" cy="32.70" r="2.5" fill="#3c7a92"/>
<circle cx="381.10" cy="31.80" r="2.5" fill="#3c7a92"/>
<circle cx="395.95" cy="43.00" r="2.5" fill="#3c7a92"/>
<circle cx="425.65" cy="60.70" r="2.5" fill="#3c7a92"/>
<circle cx="440.50" cy="75.50" r="2.5" fill="#3c7a92"/>
<circle cx="455.35" cy="93.00" r="2.5" fill="#3c7a92"/>
<circle cx="470.20" cy="107.00" r="2.5" fill="#3c7a92"/>
<circle cx="485.05" cy="115.00" r="2.5" fill="#3c7a92"/>
<circle cx="499.90" cy="115.40" r="2.5" fill="#3c7a92"/>
<circle cx="514.75" cy="118.20" r="2.5" fill="#3c7a92"/>
<path d="M366.25,19.30 V31.30 M364.55,19.30 H367.95 M364.55,31.30 H367.95" stroke="#c4d4f2" stroke-width="0.85" fill="none"/>
<path d="M381.10,18.70 V29.90 M379.40,18.70 H382.80 M379.40,29.90 H382.80" stroke="#c4d4f2" stroke-width="0.85" fill="none"/>
<path d="M395.95,26.60 V32.60 M394.25,26.60 H397.65 M394.25,32.60 H397.65" stroke="#c4d4f2" stroke-width="0.85" fill="none"/>
<path d="M425.65,44.80 V56.80 M423.95,44.80 H427.35 M423.95,56.80 H427.35" stroke="#c4d4f2" stroke-width="0.85" fill="none"/>
<circle cx="366.25" cy="25.30" r="2.6" fill="#c4d4f2"/>
<circle cx="381.10" cy="24.30" r="2.6" fill="#c4d4f2"/>
<circle cx="395.95" cy="29.60" r="2.6" fill="#c4d4f2"/>
<circle cx="410.80" cy="42.60" r="2.6" fill="#c4d4f2"/>
<circle cx="425.65" cy="50.80" r="2.6" fill="#c4d4f2"/>
<circle cx="440.50" cy="69.90" r="2.6" fill="#c4d4f2"/>
<circle cx="455.35" cy="92.00" r="2.6" fill="#c4d4f2"/>
<circle cx="470.20" cy="107.00" r="2.6" fill="#c4d4f2"/>
<circle cx="485.05" cy="114.90" r="2.6" fill="#c4d4f2"/>
<circle cx="499.90" cy="116.00" r="2.6" fill="#c4d4f2"/>
<circle cx="514.75" cy="118.00" r="2.6" fill="#c4d4f2"/>
<line x1="364.70000000000005" y1="75.1" x2="374.5" y2="75.1" stroke="#c4d4f2" stroke-width="1.1" />
<circle cx="369.6" cy="75.1" r="2.3" fill="#c4d4f2"/>
<text x="377.0" y="77.4" font-size="6.6" text-anchor="start" font-weight="normal" fill="#1e1e1e" stroke="#1e1e1e" stroke-width="0.12" textLength="30.0" lengthAdjust="spacingAndGlyphs" >11SJK325</text>
<line x1="364.70000000000005" y1="84.4" x2="374.5" y2="84.4" stroke="#3c7a92" stroke-width="1.1" />
<circle cx="369.6" cy="84.4" r="2.3" fill="#3c7a92"/>
<text x="377.0" y="86.7" font-size="6.6" text-anchor="start" font-weight="normal" fill="#1e1e1e" stroke="#1e1e1e" stroke-width="0.12" textLength="30.0" lengthAdjust="spacingAndGlyphs" >12SJK010</text>
<line x1="364.70000000000005" y1="92.75" x2="374.5" y2="92.75" stroke="#7eeef6" stroke-width="1.1" />
<circle cx="369.6" cy="92.75" r="2.3" fill="#7eeef6"/>
<text x="377.0" y="95.05" font-size="6.6" text-anchor="start" font-weight="normal" fill="#1e1e1e" stroke="#1e1e1e" stroke-width="0.12" textLength="30.0" lengthAdjust="spacingAndGlyphs" >12SJK011</text>
<line x1="364.70000000000005" y1="104.75" x2="374.5" y2="104.75" stroke="#e8a0a2" stroke-width="1.1" />
<circle cx="369.6" cy="104.75" r="2.3" fill="#e8a0a2"/>
<text x="377.0" y="107.05" font-size="6.6" text-anchor="start" font-weight="normal" fill="#1e1e1e" stroke="#1e1e1e" stroke-width="0.12" textLength="30.0" lengthAdjust="spacingAndGlyphs" >12SJK064</text>
<line x1="364.70000000000005" y1="113.1" x2="374.5" y2="113.1" stroke="#82084a" stroke-width="1.1" />
<circle cx="369.6" cy="113.1" r="2.3" fill="#82084a"/>
<text x="377.0" y="115.4" font-size="6.6" text-anchor="start" font-weight="normal" fill="#1e1e1e" stroke="#1e1e1e" stroke-width="0.12" textLength="30.0" lengthAdjust="spacingAndGlyphs" >12SJK069</text>
<line x1="409.5" y1="70.6" x2="409.5" y2="96.3" stroke="#6060b4" stroke-width="1.2" />
<line x1="409.5" y1="101.9" x2="409.5" y2="117.5" stroke="#c04858" stroke-width="1.2" />
<text x="411.3" y="87.7" font-size="6.6" text-anchor="start" font-weight="normal" fill="#1e1e1e" stroke="#1e1e1e" stroke-width="0.12" textLength="21.3" lengthAdjust="spacingAndGlyphs" >Control</text>
<text x="411.3" y="111.0" font-size="6.6" text-anchor="start" font-weight="normal" fill="#1e1e1e" stroke="#1e1e1e" stroke-width="0.12" textLength="27.3" lengthAdjust="spacingAndGlyphs" >Resistant</text>
<text x="81.2" y="178.1" font-size="7.6" text-anchor="middle" font-weight="normal" fill="#1e1e1e" stroke="#1e1e1e" stroke-width="0.25" textLength="35.0" lengthAdjust="spacingAndGlyphs" >12SJK011</text>
<text x="81.2" y="187.4" font-size="7.6" text-anchor="middle" font-weight="normal" fill="#1e1e1e" stroke="#1e1e1e" stroke-width="0.25" >(Control)</text>
<line x1="23.4" y1="185.7" x2="23.4" y2="294.8" stroke="#555" stroke-width="1.0" />
<line x1="21.2" y1="204.39999999999998" x2="23.4" y2="204.39999999999998" stroke="#333" stroke-width="1.0" />
<text x="19.4" y="206.39999999999998" font-size="7.5" text-anchor="end" font-weight="normal" fill="#1e1e1e" stroke="#1e1e1e" stroke-width="0.25" >1.0</text>
<line x1="21.2" y1="222.39999999999998" x2="23.4" y2="222.39999999999998" stroke="#333" stroke-width="1.0" />
<text x="19.4" y="224.39999999999998" font-size="7.5" text-anchor="end" font-weight="normal" fill="#1e1e1e" stroke="#1e1e1e" stroke-width="0.25" >0.8</text>
<line x1="21.2" y1="240.39999999999998" x2="23.4" y2="240.39999999999998" stroke="#333" stroke-width="1.0" />
<text x="19.4" y="242.39999999999998" font-size="7.5" text-anchor="end" font-weight="normal" fill="#1e1e1e" stroke="#1e1e1e" stroke-width="0.25" >0.6</text>
<line x1="21.2" y1="258.4" x2="23.4" y2="258.4" stroke="#333" stroke-width="1.0" />
<text x="19.4" y="260.4" font-size="7.5" text-anchor="end" font-weight="normal" fill="#1e1e1e" stroke="#1e1e1e" stroke-width="0.25" >0.4</text>
<line x1="21.2" y1="276.4" x2="23.4" y2="276.4" stroke="#333" stroke-width="1.0" />
<text x="19.4" y="278.4" font-size="7.5" text-anchor="end" font-weight="normal" fill="#1e1e1e" stroke="#1e1e1e" stroke-width="0.25" >0.2</text>
<line x1="21.2" y1="294.4" x2="23.4" y2="294.4" stroke="#333" stroke-width="1.0" />
<text x="18.5" y="296.4" font-size="7.5" text-anchor="end" font-weight="normal" fill="#1e1e1e" stroke="#1e1e1e" stroke-width="0.25" >0</text>
<line x1="28.3" y1="299.6" x2="149.8" y2="299.6" stroke="#555" stroke-width="1.0" />
<line x1="28.3" y1="299.6" x2="28.3" y2="302.2" stroke="#555" stroke-width="1.0" />
<text x="23.5" y="311.0" font-size="7.0" text-anchor="start" font-weight="normal" fill="#1e1e1e" stroke="#1e1e1e" stroke-width="0.25" >10</text>
<text x="31.47" y="308.1" font-size="4.3" text-anchor="start" font-weight="normal" fill="#1e1e1e" stroke="#1e1e1e" stroke-width="0.25" >0</text>
<line x1="68.8" y1="299.6" x2="68.8" y2="302.2" stroke="#555" stroke-width="1.0" />
<text x="64.0" y="311.0" font-size="7.0" text-anchor="start" font-weight="normal" fill="#1e1e1e" stroke="#1e1e1e" stroke-width="0.25" >10</text>
<text x="71.97" y="308.1" font-size="4.3" text-anchor="start" font-weight="normal" fill="#1e1e1e" stroke="#1e1e1e" stroke-width="0.25" >1</text>
<line x1="109.3" y1="299.6" x2="109.3" y2="302.2" stroke="#555" stroke-width="1.0" />
<text x="104.5" y="311.0" font-size="7.0" text-anchor="start" font-weight="normal" fill="#1e1e1e" stroke="#1e1e1e" stroke-width="0.25" >10</text>
<text x="112.47" y="308.1" font-size="4.3" text-anchor="start" font-weight="normal" fill="#1e1e1e" stroke="#1e1e1e" stroke-width="0.25" >2</text>
<line x1="149.8" y1="299.6" x2="149.8" y2="302.2" stroke="#555" stroke-width="1.0" />
<text x="145.0" y="311.0" font-size="7.0" text-anchor="start" font-weight="normal" fill="#1e1e1e" stroke="#1e1e1e" stroke-width="0.25" >10</text>
<text x="152.97" y="308.1" font-size="4.3" text-anchor="start" font-weight="normal" fill="#1e1e1e" stroke="#1e1e1e" stroke-width="0.25" >3</text>
<text x="68.3" y="320.6" font-size="7.0" text-anchor="start" font-weight="normal" fill="#1e1e1e" stroke="#1e1e1e" stroke-width="0.25" textLength="47.0" lengthAdjust="spacingAndGlyphs" >AZD8055 (nM)</text>
<text x="6.0" y="246.6" font-size="7.0" text-anchor="middle" font-weight="normal" fill="#1e1e1e" stroke="#1e1e1e" stroke-width="0.25" textLength="51.8" lengthAdjust="spacingAndGlyphs" transform="rotate(-90 6.0 246.6)">Relative viability</text>
<line x1="23.8" y1="236.3" x2="149.0" y2="236.3" stroke="#999" stroke-width="1.0" stroke-dasharray="4 3.6"/>
<text x="241.6" y="178.1" font-size="7.6" text-anchor="middle" font-weight="normal" fill="#1e1e1e" stroke="#1e1e1e" stroke-width="0.25" textLength="35.0" lengthAdjust="spacingAndGlyphs" >12SJK069</text>
<text x="241.6" y="187.4" font-size="7.6" text-anchor="middle" font-weight="normal" fill="#1e1e1e" stroke="#1e1e1e" stroke-width="0.25" >(Resistant)</text>
<line x1="181.6" y1="185.7" x2="181.6" y2="294.8" stroke="#555" stroke-width="1.0" />
<line x1="179.4" y1="204.39999999999998" x2="181.6" y2="204.39999999999998" stroke="#333" stroke-width="1.0" />
<text x="177.6" y="206.39999999999998" font-size="7.5" text-anchor="end" font-weight="normal" fill="#1e1e1e" stroke="#1e1e1e" stroke-width="0.25" >1.0</text>
<line x1="179.4" y1="222.39999999999998" x2="181.6" y2="222.39999999999998" stroke="#333" stroke-width="1.0" />
<text x="177.6" y="224.39999999999998" font-size="7.5" text-anchor="end" font-weight="normal" fill="#1e1e1e" stroke="#1e1e1e" stroke-width="0.25" >0.8</text>
<line x1="179.4" y1="240.39999999999998" x2="181.6" y2="240.39999999999998" stroke="#333" stroke-width="1.0" />
<text x="177.6" y="242.39999999999998" font-size="7.5" text-anchor="end" font-weight="normal" fill="#1e1e1e" stroke="#1e1e1e" stroke-width="0.25" >0.6</text>
<line x1="179.4" y1="258.4" x2="181.6" y2="258.4" stroke="#333" stroke-width="1.0" />
<text x="177.6" y="260.4" font-size="7.5" text-anchor="end" font-weight="normal" fill="#1e1e1e" stroke="#1e1e1e" stroke-width="0.25" >0.4</text>
<line x1="179.4" y1="276.4" x2="181.6" y2="276.4" stroke="#333" stroke-width="1.0" />
<text x="177.6" y="278.4" font-size="7.5" text-anchor="end" font-weight="normal" fill="#1e1e1e" stroke="#1e1e1e" stroke-width="0.25" >0.2</text>
<line x1="179.4" y1="294.4" x2="181.6" y2="294.4" stroke="#333" stroke-width="1.0" />
<text x="176.7" y="296.4" font-size="7.5" text-anchor="end" font-weight="normal" fill="#1e1e1e" stroke="#1e1e1e" stroke-width="0.25" >0</text>
<line x1="186.3" y1="299.6" x2="307.8" y2="299.6" stroke="#555" stroke-width="1.0" />
<line x1="186.3" y1="299.6" x2="186.3" y2="302.2" stroke="#555" stroke-width="1.0" />
<text x="181.5" y="311.0" font-size="7.0" text-anchor="start" font-weight="normal" fill="#1e1e1e" stroke="#1e1e1e" stroke-width="0.25" >10</text>
<text x="189.47" y="308.1" font-size="4.3" text-anchor="start" font-weight="normal" fill="#1e1e1e" stroke="#1e1e1e" stroke-width="0.25" >0</text>
<line x1="226.8" y1="299.6" x2="226.8" y2="302.2" stroke="#555" stroke-width="1.0" />
<text x="222.0" y="311.0" font-size="7.0" text-anchor="start" font-weight="normal" fill="#1e1e1e" stroke="#1e1e1e" stroke-width="0.25" >10</text>
<text x="229.97" y="308.1" font-size="4.3" text-anchor="start" font-weight="normal" fill="#1e1e1e" stroke="#1e1e1e" stroke-width="0.25" >1</text>
<line x1="267.3" y1="299.6" x2="267.3" y2="302.2" stroke="#555" stroke-width="1.0" />
<text x="262.5" y="311.0" font-size="7.0" text-anchor="start" font-weight="normal" fill="#1e1e1e" stroke="#1e1e1e" stroke-width="0.25" >10</text>
<text x="270.47" y="308.1" font-size="4.3" text-anchor="start" font-weight="normal" fill="#1e1e1e" stroke="#1e1e1e" stroke-width="0.25" >2</text>
<line x1="307.8" y1="299.6" x2="307.8" y2="302.2" stroke="#555" stroke-width="1.0" />
<text x="303.0" y="311.0" font-size="7.0" text-anchor="start" font-weight="normal" fill="#1e1e1e" stroke="#1e1e1e" stroke-width="0.25" >10</text>
<text x="310.97" y="308.1" font-size="4.3" text-anchor="start" font-weight="normal" fill="#1e1e1e" stroke="#1e1e1e" stroke-width="0.25" >3</text>
<text x="226.3" y="320.6" font-size="7.0" text-anchor="start" font-weight="normal" fill="#1e1e1e" stroke="#1e1e1e" stroke-width="0.25" textLength="47.0" lengthAdjust="spacingAndGlyphs" >AZD8055 (nM)</text>
<text x="162.5" y="246.6" font-size="7.0" text-anchor="middle" font-weight="normal" fill="#1e1e1e" stroke="#1e1e1e" stroke-width="0.25" textLength="51.8" lengthAdjust="spacingAndGlyphs" transform="rotate(-90 162.5 246.6)">Relative viability</text>
<line x1="182.5" y1="238.0" x2="313.0" y2="238.0" stroke="#999" stroke-width="1.0" stroke-dasharray="4 3.6"/>
<path d="M28.30,205.75 L29.82,205.91 L31.34,206.09 L32.86,206.28 L34.38,206.49 L35.90,206.72 L37.42,206.96 L38.94,207.23 L40.47,207.51 L41.99,207.82 L43.51,208.16 L45.03,208.51 L46.55,208.90 L48.07,209.32 L49.59,209.77 L51.11,210.25 L52.63,210.77 L54.15,211.33 L55.67,211.92 L57.19,212.56 L58.71,213.25 L60.23,213.98 L61.75,214.76 L63.27,215.59 L64.80,216.47 L66.32,217.41 L67.84,218.40 L69.36,219.45 L70.88,220.56 L72.40,221.73 L73.92,222.96 L75.44,224.24 L76.96,225.59 L78.48,227.00 L80.00,228.46 L81.52,229.98 L83.04,231.55 L84.56,233.17 L86.08,234.83 L87.60,236.54 L89.12,238.29 L90.65,240.07 L92.17,241.87 L93.69,243.69 L95.21,245.53 L96.73,247.38 L98.25,249.23 L99.77,251.08 L101.29,252.91 L102.81,254.73 L104.33,256.52 L105.85,258.28 L107.37,260.01 L108.89,261.70 L110.41,263.35 L111.93,264.94 L113.45,266.49 L114.98,267.98 L116.50,269.42 L118.02,270.80 L119.54,272.12 L121.06,273.38 L122.58,274.58 L124.10,275.72 L125.62,276.80 L127.14,277.83 L128.66,278.79 L130.18,279.71 L131.70,280.56 L133.22,281.37 L134.74,282.13 L136.26,282.84 L137.78,283.50 L139.31,284.12 L140.83,284.70 L142.35,285.24 L143.87,285.74 L145.39,286.21 L146.91,286.64 L148.43,287.04 L149.95,287.42" fill="none" stroke="#111" stroke-width="1.1" />
<path d="M28.30,238.22 L29.82,238.33 L31.34,238.44 L32.86,238.55 L34.38,238.68 L35.90,238.82 L37.42,238.97 L38.94,239.14 L40.47,239.31 L41.99,239.50 L43.51,239.71 L45.03,239.93 L46.55,240.17 L48.07,240.43 L49.59,240.71 L51.11,241.01 L52.63,241.34 L54.15,241.68 L55.67,242.06 L57.19,242.46 L58.71,242.88 L60.23,243.34 L61.75,243.83 L63.27,244.35 L64.80,244.91 L66.32,245.50 L67.84,246.12 L69.36,246.78 L70.88,247.48 L72.40,248.22 L73.92,248.99 L75.44,249.80 L76.96,250.65 L78.48,251.54 L80.00,252.47 L81.52,253.43 L83.04,254.42 L84.56,255.44 L86.08,256.50 L87.60,257.58 L89.12,258.68 L90.65,259.81 L92.17,260.95 L93.69,262.10 L95.21,263.26 L96.73,264.43 L98.25,265.60 L99.77,266.76 L101.29,267.92 L102.81,269.06 L104.33,270.19 L105.85,271.30 L107.37,272.39 L108.89,273.45 L110.41,274.48 L111.93,275.48 L113.45,276.45 L114.98,277.38 L116.50,278.28 L118.02,279.14 L119.54,279.96 L121.06,280.74 L122.58,281.48 L124.10,282.19 L125.62,282.86 L127.14,283.49 L128.66,284.09 L130.18,284.65 L131.70,285.18 L133.22,285.68 L134.74,286.14 L136.26,286.58 L137.78,286.98 L139.31,287.36 L140.83,287.71 L142.35,288.04 L143.87,288.35 L145.39,288.63 L146.91,288.90 L148.43,289.14 L149.95,289.37" fill="none" stroke="#4466d4" stroke-width="1.1" />
<path d="M28.30,238.22 L29.82,238.33 L31.34,238.44 L32.86,238.55 L34.38,238.68 L35.90,238.82 L37.42,238.97 L38.94,239.14 L40.47,239.31 L41.99,239.50 L43.51,239.71 L45.03,239.93 L46.55,240.17 L48.07,240.43 L49.59,240.71 L51.11,241.01 L52.63,241.34 L54.15,241.68 L55.67,242.06 L57.19,242.46 L58.71,242.88 L60.23,243.34 L61.75,243.83 L63.27,244.35 L64.80,244.91 L66.32,245.50 L67.84,246.12 L69.36,246.78 L70.88,247.48 L72.40,248.22 L73.92,248.99 L75.44,249.80 L76.96,250.65 L78.48,251.54 L80.00,252.47 L81.52,253.43 L83.04,254.42 L84.56,255.44 L86.08,256.50 L87.60,257.58 L89.12,258.68 L90.65,259.81 L92.17,260.95 L93.69,262.10 L95.21,263.26 L96.73,264.43 L98.25,265.60 L99.77,266.76 L101.29,267.92 L102.81,269.06 L104.33,270.19 L105.85,271.30 L107.37,272.39 L108.89,273.45 L110.41,274.48 L111.93,275.48 L113.45,276.45 L114.98,277.38 L116.50,278.28 L118.02,279.14 L119.54,279.96 L121.06,280.74 L122.58,281.48 L124.10,282.19 L125.62,282.86 L127.14,283.49 L128.66,284.09 L130.18,284.65 L131.70,285.18 L133.22,285.68 L134.74,286.14 L136.26,286.58 L137.78,286.98 L139.31,287.36 L140.83,287.71 L142.35,288.04 L143.87,288.35 L145.39,288.63 L146.91,288.90 L148.43,289.14 L149.95,289.37" fill="none" stroke="#e03434" stroke-width="1.1" transform="translate(0,1.0)"/>
<path d="M28.30,238.22 L29.82,238.33 L31.34,238.44 L32.86,238.55 L34.38,238.68 L35.90,238.82 L37.42,238.97 L38.94,239.14 L40.47,239.31 L41.99,239.50 L43.51,239.71 L45.03,239.93 L46.55,240.17 L48.07,240.43 L49.59,240.71 L51.11,241.01 L52.63,241.34 L54.15,241.68 L55.67,242.06 L57.19,242.46 L58.71,242.88 L60.23,243.34 L61.75,243.83 L63.27,244.35 L64.80,244.91 L66.32,245.50 L67.84,246.12 L69.36,246.78 L70.88,247.48 L72.40,248.22 L73.92,248.99 L75.44,249.80 L76.96,250.65 L78.48,251.54 L80.00,252.47 L81.52,253.43 L83.04,254.42 L84.56,255.44 L86.08,256.50 L87.60,257.58 L89.12,258.68 L90.65,259.81 L92.17,260.95 L93.69,262.10 L95.21,263.26 L96.73,264.43 L98.25,265.60 L99.77,266.76 L101.29,267.92 L102.81,269.06 L104.33,270.19 L105.85,271.30 L107.37,272.39 L108.89,273.45 L110.41,274.48 L111.93,275.48 L113.45,276.45 L114.98,277.38 L116.50,278.28 L118.02,279.14 L119.54,279.96 L121.06,280.74 L122.58,281.48 L124.10,282.19 L125.62,282.86 L127.14,283.49 L128.66,284.09 L130.18,284.65 L131.70,285.18 L133.22,285.68 L134.74,286.14 L136.26,286.58 L137.78,286.98 L139.31,287.36 L140.83,287.71 L142.35,288.04 L143.87,288.35 L145.39,288.63 L146.91,288.90 L148.43,289.14 L149.95,289.37" fill="none" stroke="#4466d4" stroke-width="1.0"/>
<path d="M186.30,203.98 L187.82,203.99 L189.34,203.99 L190.86,204.00 L192.38,204.00 L193.89,204.01 L195.41,204.02 L196.93,204.03 L198.45,204.04 L199.97,204.05 L201.49,204.07 L203.01,204.08 L204.53,204.10 L206.04,204.12 L207.56,204.15 L209.08,204.17 L210.60,204.20 L212.12,204.23 L213.64,204.27 L215.16,204.31 L216.68,204.36 L218.19,204.42 L219.71,204.48 L221.23,204.55 L222.75,204.62 L224.27,204.71 L225.79,204.81 L227.31,204.92 L228.83,205.04 L230.34,205.18 L231.86,205.34 L233.38,205.52 L234.90,205.72 L236.42,205.94 L237.94,206.19 L239.46,206.47 L240.98,206.79 L242.49,207.14 L244.01,207.53 L245.53,207.97 L247.05,208.46 L248.57,209.00 L250.09,209.61 L251.61,210.27 L253.12,211.01 L254.64,211.81 L256.16,212.70 L257.68,213.67 L259.20,214.73 L260.72,215.88 L262.24,217.13 L263.76,218.47 L265.27,219.90 L266.79,221.43 L268.31,223.05 L269.83,224.75 L271.35,226.53 L272.87,228.39 L274.39,230.30 L275.91,232.27 L277.43,234.26 L278.94,236.28 L280.46,238.31 L281.98,240.33 L283.50,242.32 L285.02,244.28 L286.54,246.18 L288.06,248.02 L289.57,249.79 L291.09,251.48 L292.61,253.08 L294.13,254.59 L295.65,256.01 L297.17,257.33 L298.69,258.56 L300.21,259.69 L301.73,260.73 L303.24,261.69 L304.76,262.56 L306.28,263.35 L307.80,264.08" fill="none" stroke="#111" stroke-width="1.1" />
<path d="M186.30,237.57 L187.82,237.58 L189.34,237.58 L190.86,237.58 L192.38,237.59 L193.89,237.59 L195.41,237.60 L196.93,237.61 L198.45,237.61 L199.97,237.62 L201.49,237.63 L203.01,237.64 L204.53,237.65 L206.04,237.67 L207.56,237.68 L209.08,237.70 L210.60,237.72 L212.12,237.74 L213.64,237.77 L215.16,237.79 L216.68,237.83 L218.19,237.86 L219.71,237.90 L221.23,237.95 L222.75,238.00 L224.27,238.06 L225.79,238.12 L227.31,238.20 L228.83,238.28 L230.34,238.37 L231.86,238.48 L233.38,238.60 L234.90,238.73 L236.42,238.88 L237.94,239.05 L239.46,239.24 L240.98,239.45 L242.49,239.69 L244.01,239.95 L245.53,240.25 L247.05,240.57 L248.57,240.94 L250.09,241.34 L251.61,241.78 L253.12,242.28 L254.64,242.82 L256.16,243.41 L257.68,244.06 L259.20,244.76 L260.72,245.52 L262.24,246.34 L263.76,247.23 L265.27,248.17 L266.79,249.17 L268.31,250.22 L269.83,251.33 L271.35,252.49 L272.87,253.68 L274.39,254.91 L275.91,256.16 L277.43,257.43 L278.94,258.70 L280.46,259.97 L281.98,261.23 L283.50,262.46 L285.02,263.66 L286.54,264.83 L288.06,265.95 L289.57,267.02 L291.09,268.04 L292.61,269.00 L294.13,269.90 L295.65,270.74 L297.17,271.52 L298.69,272.24 L300.21,272.90 L301.73,273.51 L303.24,274.07 L304.76,274.57 L306.28,275.03 L307.80,275.45" fill="none" stroke="#4466d4" stroke-width="1.1" />
<path d="M186.30,239.06 L187.82,239.22 L189.34,239.39 L190.86,239.56 L192.38,239.76 L193.89,239.96 L195.41,240.18 L196.93,240.41 L198.45,240.65 L199.97,240.91 L201.49,241.19 L203.01,241.48 L204.53,241.79 L206.04,242.12 L207.56,242.47 L209.08,242.84 L210.60,243.23 L212.12,243.63 L213.64,244.06 L215.16,244.52 L216.68,244.99 L218.19,245.49 L219.71,246.01 L221.23,246.55 L222.75,247.12 L224.27,247.71 L225.79,248.32 L227.31,248.96 L228.83,249.62 L230.34,250.30 L231.86,251.00 L233.38,251.73 L234.90,252.47 L236.42,253.23 L237.94,254.01 L239.46,254.80 L240.98,255.61 L242.49,256.43 L244.01,257.26 L245.53,258.09 L247.05,258.94 L248.57,259.79 L250.09,260.63 L251.61,261.48 L253.12,262.33 L254.64,263.17 L256.16,264.00 L257.68,264.83 L259.20,265.64 L260.72,266.45 L262.24,267.23 L263.76,268.01 L265.27,268.76 L266.79,269.49 L268.31,270.21 L269.83,270.90 L271.35,271.58 L272.87,272.23 L274.39,272.85 L275.91,273.46 L277.43,274.04 L278.94,274.59 L280.46,275.13 L281.98,275.64 L283.50,276.13 L285.02,276.59 L286.54,277.03 L288.06,277.45 L289.57,277.85 L291.09,278.23 L292.61,278.59 L294.13,278.93 L295.65,279.25 L297.17,279.56 L298.69,279.84 L300.21,280.11 L301.73,280.37 L303.24,280.61 L304.76,280.83 L306.28,281.04 L307.80,281.24" fill="none" stroke="#e03434" stroke-width="1.1" />
<circle cx="28.30" cy="203.55" r="1.3" fill="#111"/>
<circle cx="28.30" cy="207.83" r="1.3" fill="#111"/>
<circle cx="28.30" cy="207.33" r="1.3" fill="#111"/>
<circle cx="28.30" cy="204.28" r="1.3" fill="#111"/>
<circle cx="40.51" cy="207.49" r="1.3" fill="#111"/>
<circle cx="40.51" cy="207.22" r="1.3" fill="#111"/>
<circle cx="40.51" cy="208.43" r="1.3" fill="#111"/>
<circle cx="40.51" cy="209.25" r="1.3" fill="#111"/>
<circle cx="52.71" cy="208.36" r="1.3" fill="#111"/>
<circle cx="52.71" cy="207.97" r="1.3" fill="#111"/>
<circle cx="52.71" cy="212.81" r="1.3" fill="#111"/>
<circle cx="52.71" cy="210.40" r="1.3" fill="#111"/>
<circle cx="64.92" cy="218.12" r="1.3" fill="#111"/>
<circle cx="64.92" cy="213.56" r="1.3" fill="#111"/>
<circle cx="64.92" cy="216.22" r="1.3" fill="#111"/>
<circle cx="64.92" cy="217.87" r="1.3" fill="#111"/>
<circle cx="77.12" cy="224.11" r="1.3" fill="#111"/>
<circle cx="77.12" cy="228.41" r="1.3" fill="#111"/>
<circle cx="77.12" cy="228.15" r="1.3" fill="#111"/>
<circle cx="77.12" cy="222.92" r="1.3" fill="#111"/>
<circle cx="89.33" cy="235.68" r="1.3" fill="#111"/>
<circle cx="89.33" cy="238.77" r="1.3" fill="#111"/>
<circle cx="89.33" cy="241.16" r="1.3" fill="#111"/>
<circle cx="89.33" cy="237.81" r="1.3" fill="#111"/>
<circle cx="101.53" cy="251.50" r="1.3" fill="#111"/>
<circle cx="101.53" cy="252.73" r="1.3" fill="#111"/>
<circle cx="101.53" cy="250.38" r="1.3" fill="#111"/>
<circle cx="101.53" cy="251.53" r="1.3" fill="#111"/>
<circle cx="113.74" cy="266.40" r="1.3" fill="#111"/>
<circle cx="113.74" cy="266.75" r="1.3" fill="#111"/>
<circle cx="113.74" cy="265.17" r="1.3" fill="#111"/>
<circle cx="113.74" cy="265.16" r="1.3" fill="#111"/>
<circle cx="125.94" cy="275.34" r="1.3" fill="#111"/>
<circle cx="125.94" cy="276.78" r="1.3" fill="#111"/>
<circle cx="125.94" cy="275.76" r="1.3" fill="#111"/>
<circle cx="125.94" cy="274.15" r="1.3" fill="#111"/>
<circle cx="138.15" cy="285.68" r="1.3" fill="#111"/>
<circle cx="138.15" cy="283.99" r="1.3" fill="#111"/>
<circle cx="138.15" cy="284.51" r="1.3" fill="#111"/>
<circle cx="138.15" cy="281.77" r="1.3" fill="#111"/>
<circle cx="150.36" cy="290.47" r="1.3" fill="#111"/>
<circle cx="150.36" cy="289.67" r="1.3" fill="#111"/>
<circle cx="150.36" cy="285.24" r="1.3" fill="#111"/>
<circle cx="150.36" cy="286.51" r="1.3" fill="#111"/>
<circle cx="28.30" cy="240.60" r="1.2" fill="#3050c0"/>
<circle cx="28.30" cy="240.55" r="1.2" fill="#3050c0"/>
<circle cx="28.30" cy="235.92" r="1.2" fill="#3050c0"/>
<circle cx="40.51" cy="237.16" r="1.2" fill="#3050c0"/>
<circle cx="40.51" cy="241.06" r="1.2" fill="#3050c0"/>
<circle cx="40.51" cy="240.55" r="1.2" fill="#3050c0"/>
<circle cx="52.71" cy="242.24" r="1.2" fill="#3050c0"/>
<circle cx="52.71" cy="240.36" r="1.2" fill="#3050c0"/>
<circle cx="52.71" cy="241.91" r="1.2" fill="#3050c0"/>
<circle cx="64.92" cy="245.51" r="1.2" fill="#3050c0"/>
<circle cx="64.92" cy="245.37" r="1.2" fill="#3050c0"/>
<circle cx="64.92" cy="243.18" r="1.2" fill="#3050c0"/>
<circle cx="77.12" cy="250.39" r="1.2" fill="#3050c0"/>
<circle cx="77.12" cy="250.19" r="1.2" fill="#3050c0"/>
<circle cx="77.12" cy="251.91" r="1.2" fill="#3050c0"/>
<circle cx="89.33" cy="261.41" r="1.2" fill="#3050c0"/>
<circle cx="89.33" cy="261.17" r="1.2" fill="#3050c0"/>
<circle cx="89.33" cy="259.06" r="1.2" fill="#3050c0"/>
<circle cx="101.53" cy="267.82" r="1.2" fill="#3050c0"/>
<circle cx="101.53" cy="266.90" r="1.2" fill="#3050c0"/>
<circle cx="101.53" cy="265.69" r="1.2" fill="#3050c0"/>
<circle cx="113.74" cy="274.17" r="1.2" fill="#3050c0"/>
<circle cx="113.74" cy="276.44" r="1.2" fill="#3050c0"/>
<circle cx="113.74" cy="275.68" r="1.2" fill="#3050c0"/>
<circle cx="125.94" cy="282.38" r="1.2" fill="#3050c0"/>
<circle cx="125.94" cy="285.04" r="1.2" fill="#3050c0"/>
<circle cx="125.94" cy="283.13" r="1.2" fill="#3050c0"/>
<circle cx="138.15" cy="287.39" r="1.2" fill="#3050c0"/>
<circle cx="138.15" cy="285.70" r="1.2" fill="#3050c0"/>
<circle cx="138.15" cy="284.60" r="1.2" fill="#3050c0"/>
<circle cx="150.36" cy="288.52" r="1.2" fill="#3050c0"/>
<circle cx="150.36" cy="287.54" r="1.2" fill="#3050c0"/>
<circle cx="150.36" cy="289.48" r="1.2" fill="#3050c0"/>
<circle cx="28.30" cy="236.55" r="1.2" fill="#e03030"/>
<circle cx="28.30" cy="238.51" r="1.2" fill="#e03030"/>
<circle cx="40.51" cy="238.49" r="1.2" fill="#e03030"/>
<circle cx="40.51" cy="239.98" r="1.2" fill="#e03030"/>
<circle cx="52.71" cy="242.16" r="1.2" fill="#e03030"/>
<circle cx="52.71" cy="238.57" r="1.2" fill="#e03030"/>
<circle cx="64.92" cy="241.84" r="1.2" fill="#e03030"/>
<circle cx="64.92" cy="247.11" r="1.2" fill="#e03030"/>
<circle cx="77.12" cy="249.21" r="1.2" fill="#e03030"/>
<circle cx="77.12" cy="249.05" r="1.2" fill="#e03030"/>
<circle cx="89.33" cy="262.00" r="1.2" fill="#e03030"/>
<circle cx="89.33" cy="258.64" r="1.2" fill="#e03030"/>
<circle cx="101.53" cy="270.26" r="1.2" fill="#e03030"/>
<circle cx="101.53" cy="267.95" r="1.2" fill="#e03030"/>
<circle cx="113.74" cy="277.51" r="1.2" fill="#e03030"/>
<circle cx="113.74" cy="274.39" r="1.2" fill="#e03030"/>
<circle cx="125.94" cy="283.86" r="1.2" fill="#e03030"/>
<circle cx="125.94" cy="285.36" r="1.2" fill="#e03030"/>
<circle cx="138.15" cy="287.22" r="1.2" fill="#e03030"/>
<circle cx="138.15" cy="288.62" r="1.2" fill="#e03030"/>
<circle cx="150.36" cy="290.52" r="1.2" fill="#e03030"/>
<circle cx="150.36" cy="286.64" r="1.2" fill="#e03030"/>
<circle cx="186.30" cy="202.82" r="1.3" fill="#111"/>
<circle cx="186.30" cy="202.23" r="1.3" fill="#111"/>
<circle cx="186.30" cy="203.52" r="1.3" fill="#111"/>
<circle cx="186.30" cy="202.46" r="1.3" fill="#111"/>
<circle cx="198.49" cy="202.13" r="1.3" fill="#111"/>
<circle cx="198.49" cy="203.61" r="1.3" fill="#111"/>
<circle cx="198.49" cy="205.88" r="1.3" fill="#111"/>
<circle cx="198.49" cy="205.36" r="1.3" fill="#111"/>
<circle cx="210.68" cy="205.37" r="1.3" fill="#111"/>
<circle cx="210.68" cy="202.98" r="1.3" fill="#111"/>
<circle cx="210.68" cy="204.36" r="1.3" fill="#111"/>
<circle cx="210.68" cy="203.22" r="1.3" fill="#111"/>
<circle cx="222.87" cy="203.19" r="1.3" fill="#111"/>
<circle cx="222.87" cy="202.90" r="1.3" fill="#111"/>
<circle cx="222.87" cy="203.37" r="1.3" fill="#111"/>
<circle cx="222.87" cy="206.51" r="1.3" fill="#111"/>
<circle cx="235.06" cy="207.19" r="1.3" fill="#111"/>
<circle cx="235.06" cy="207.09" r="1.3" fill="#111"/>
<circle cx="235.06" cy="207.06" r="1.3" fill="#111"/>
<circle cx="235.06" cy="204.39" r="1.3" fill="#111"/>
<circle cx="247.25" cy="207.69" r="1.3" fill="#111"/>
<circle cx="247.25" cy="209.09" r="1.3" fill="#111"/>
<circle cx="247.25" cy="209.55" r="1.3" fill="#111"/>
<circle cx="247.25" cy="210.09" r="1.3" fill="#111"/>
<circle cx="259.44" cy="216.58" r="1.3" fill="#111"/>
<circle cx="259.44" cy="213.09" r="1.3" fill="#111"/>
<circle cx="259.44" cy="215.38" r="1.3" fill="#111"/>
<circle cx="259.44" cy="215.67" r="1.3" fill="#111"/>
<circle cx="271.63" cy="226.90" r="1.3" fill="#111"/>
<circle cx="271.63" cy="225.46" r="1.3" fill="#111"/>
<circle cx="271.63" cy="226.76" r="1.3" fill="#111"/>
<circle cx="271.63" cy="225.07" r="1.3" fill="#111"/>
<circle cx="283.82" cy="244.65" r="1.3" fill="#111"/>
<circle cx="283.82" cy="244.35" r="1.3" fill="#111"/>
<circle cx="283.82" cy="242.95" r="1.3" fill="#111"/>
<circle cx="283.82" cy="241.86" r="1.3" fill="#111"/>
<circle cx="296.01" cy="258.13" r="1.3" fill="#111"/>
<circle cx="296.01" cy="256.65" r="1.3" fill="#111"/>
<circle cx="296.01" cy="258.02" r="1.3" fill="#111"/>
<circle cx="296.01" cy="257.87" r="1.3" fill="#111"/>
<circle cx="308.20" cy="264.29" r="1.3" fill="#111"/>
<circle cx="308.20" cy="263.88" r="1.3" fill="#111"/>
<circle cx="308.20" cy="264.69" r="1.3" fill="#111"/>
<circle cx="308.20" cy="263.95" r="1.3" fill="#111"/>
<circle cx="235.4" cy="213.0" r="1.3" fill="#111"/>
<circle cx="186.30" cy="238.11" r="1.2" fill="#3050c0"/>
<circle cx="186.30" cy="238.64" r="1.2" fill="#3050c0"/>
<circle cx="186.30" cy="238.87" r="1.2" fill="#3050c0"/>
<circle cx="198.49" cy="239.56" r="1.2" fill="#3050c0"/>
<circle cx="198.49" cy="238.67" r="1.2" fill="#3050c0"/>
<circle cx="198.49" cy="239.47" r="1.2" fill="#3050c0"/>
<circle cx="210.68" cy="235.65" r="1.2" fill="#3050c0"/>
<circle cx="210.68" cy="237.57" r="1.2" fill="#3050c0"/>
<circle cx="210.68" cy="239.67" r="1.2" fill="#3050c0"/>
<circle cx="222.87" cy="238.66" r="1.2" fill="#3050c0"/>
<circle cx="222.87" cy="239.77" r="1.2" fill="#3050c0"/>
<circle cx="222.87" cy="236.30" r="1.2" fill="#3050c0"/>
<circle cx="235.06" cy="238.61" r="1.2" fill="#3050c0"/>
<circle cx="235.06" cy="237.63" r="1.2" fill="#3050c0"/>
<circle cx="235.06" cy="238.94" r="1.2" fill="#3050c0"/>
<circle cx="247.25" cy="240.94" r="1.2" fill="#3050c0"/>
<circle cx="247.25" cy="238.48" r="1.2" fill="#3050c0"/>
<circle cx="247.25" cy="239.37" r="1.2" fill="#3050c0"/>
<circle cx="259.44" cy="243.91" r="1.2" fill="#3050c0"/>
<circle cx="259.44" cy="246.71" r="1.2" fill="#3050c0"/>
<circle cx="259.44" cy="246.05" r="1.2" fill="#3050c0"/>
<circle cx="271.63" cy="251.21" r="1.2" fill="#3050c0"/>
<circle cx="271.63" cy="254.01" r="1.2" fill="#3050c0"/>
<circle cx="271.63" cy="251.12" r="1.2" fill="#3050c0"/>
<circle cx="283.82" cy="263.24" r="1.2" fill="#3050c0"/>
<circle cx="283.82" cy="261.08" r="1.2" fill="#3050c0"/>
<circle cx="283.82" cy="260.53" r="1.2" fill="#3050c0"/>
<circle cx="296.01" cy="272.57" r="1.2" fill="#3050c0"/>
<circle cx="296.01" cy="269.65" r="1.2" fill="#3050c0"/>
<circle cx="296.01" cy="269.68" r="1.2" fill="#3050c0"/>
<circle cx="308.20" cy="277.67" r="1.2" fill="#3050c0"/>
<circle cx="308.20" cy="277.19" r="1.2" fill="#3050c0"/>
<circle cx="308.20" cy="274.62" r="1.2" fill="#3050c0"/>
<circle cx="186.30" cy="240.70" r="1.2" fill="#e03030"/>
<circle cx="186.30" cy="240.86" r="1.2" fill="#e03030"/>
<circle cx="186.30" cy="238.97" r="1.2" fill="#e03030"/>
<circle cx="198.49" cy="239.33" r="1.2" fill="#e03030"/>
<circle cx="198.49" cy="237.86" r="1.2" fill="#e03030"/>
<circle cx="198.49" cy="241.57" r="1.2" fill="#e03030"/>
<circle cx="210.68" cy="243.08" r="1.2" fill="#e03030"/>
<circle cx="210.68" cy="244.70" r="1.2" fill="#e03030"/>
<circle cx="210.68" cy="242.54" r="1.2" fill="#e03030"/>
<circle cx="222.87" cy="248.68" r="1.2" fill="#e03030"/>
<circle cx="222.87" cy="245.89" r="1.2" fill="#e03030"/>
<circle cx="222.87" cy="248.85" r="1.2" fill="#e03030"/>
<circle cx="235.06" cy="253.84" r="1.2" fill="#e03030"/>
<circle cx="235.06" cy="252.07" r="1.2" fill="#e03030"/>
<circle cx="235.06" cy="252.76" r="1.2" fill="#e03030"/>
<circle cx="247.25" cy="260.07" r="1.2" fill="#e03030"/>
<circle cx="247.25" cy="257.33" r="1.2" fill="#e03030"/>
<circle cx="247.25" cy="259.35" r="1.2" fill="#e03030"/>
<circle cx="259.44" cy="267.48" r="1.2" fill="#e03030"/>
<circle cx="259.44" cy="264.46" r="1.2" fill="#e03030"/>
<circle cx="259.44" cy="267.47" r="1.2" fill="#e03030"/>
<circle cx="271.63" cy="272.74" r="1.2" fill="#e03030"/>
<circle cx="271.63" cy="273.63" r="1.2" fill="#e03030"/>
<circle cx="271.63" cy="270.78" r="1.2" fill="#e03030"/>
<circle cx="283.82" cy="273.95" r="1.2" fill="#e03030"/>
<circle cx="283.82" cy="277.91" r="1.2" fill="#e03030"/>
<circle cx="283.82" cy="277.93" r="1.2" fill="#e03030"/>
<circle cx="296.01" cy="279.02" r="1.2" fill="#e03030"/>
<circle cx="296.01" cy="277.05" r="1.2" fill="#e03030"/>
<circle cx="296.01" cy="277.63" r="1.2" fill="#e03030"/>
<circle cx="308.20" cy="282.05" r="1.2" fill="#e03030"/>
<circle cx="308.20" cy="280.12" r="1.2" fill="#e03030"/>
<circle cx="308.20" cy="283.82" r="1.2" fill="#e03030"/>
<line x1="28.5" y1="267.9" x2="35.3" y2="267.9" stroke="#111" stroke-width="1.5" />
<text x="36.9" y="270.4" font-size="6.8" text-anchor="start" font-weight="normal" fill="#1e1e1e" stroke="#1e1e1e" stroke-width="0.12" textLength="47.4" lengthAdjust="spacingAndGlyphs" >AZD8055 single</text>
<line x1="28.5" y1="275.09999999999997" x2="35.3" y2="275.09999999999997" stroke="#4466d4" stroke-width="1.5" />
<text x="36.9" y="277.59999999999997" font-size="6.8" text-anchor="start" font-weight="normal" fill="#1e1e1e" stroke="#1e1e1e" stroke-width="0.12" textLength="58.1" lengthAdjust="spacingAndGlyphs" >Bliss independence</text>
<line x1="28.5" y1="282.29999999999995" x2="35.3" y2="282.29999999999995" stroke="#e03434" stroke-width="1.5" />
<text x="36.9" y="284.79999999999995" font-size="6.8" text-anchor="start" font-weight="normal" fill="#1e1e1e" stroke="#1e1e1e" stroke-width="0.12" textLength="27.0" lengthAdjust="spacingAndGlyphs" >Observed</text>
<line x1="28.5" y1="289.5" x2="35.3" y2="289.5" stroke="#888" stroke-width="0.8" stroke-dasharray="1.6 0.9"/>
<text x="36.9" y="292.0" font-size="6.8" text-anchor="start" font-weight="normal" fill="#1e1e1e" stroke="#1e1e1e" stroke-width="0.12" textLength="25.6" lengthAdjust="spacingAndGlyphs" >KJ-Pyr-9</text>
<line x1="186.5" y1="269.0" x2="193.3" y2="269.0" stroke="#111" stroke-width="1.5" />
<text x="194.9" y="271.5" font-size="6.8" text-anchor="start" font-weight="normal" fill="#1e1e1e" stroke="#1e1e1e" stroke-width="0.12" textLength="47.4" lengthAdjust="spacingAndGlyphs" >AZD8055 single</text>
<line x1="186.5" y1="276.2" x2="193.3" y2="276.2" stroke="#4466d4" stroke-width="1.5" />
<text x="194.9" y="278.7" font-size="6.8" text-anchor="start" font-weight="normal" fill="#1e1e1e" stroke="#1e1e1e" stroke-width="0.12" textLength="58.1" lengthAdjust="spacingAndGlyphs" >Bliss independence</text>
<line x1="186.5" y1="283.4" x2="193.3" y2="283.4" stroke="#e03434" stroke-width="1.5" />
<text x="194.9" y="285.9" font-size="6.8" text-anchor="start" font-weight="normal" fill="#1e1e1e" stroke="#1e1e1e" stroke-width="0.12" textLength="27.0" lengthAdjust="spacingAndGlyphs" >Observed</text>
<line x1="186.5" y1="290.6" x2="193.3" y2="290.6" stroke="#888" stroke-width="0.8" stroke-dasharray="1.6 0.9"/>
<text x="194.9" y="293.1" font-size="6.8" text-anchor="start" font-weight="normal" fill="#1e1e1e" stroke="#1e1e1e" stroke-width="0.12" textLength="25.6" lengthAdjust="spacingAndGlyphs" >KJ-Pyr-9</text>
<text x="405.4" y="179.6" font-size="7.8" text-anchor="start" font-weight="normal" fill="#1e1e1e" stroke="#1e1e1e" stroke-width="0.25" textLength="71.5" lengthAdjust="spacingAndGlyphs" >AZD8055 + KJ-Pyr-9</text>
<line x1="361.7" y1="181.5" x2="361.7" y2="299.0" stroke="#555" stroke-width="1.0" />
<line x1="361.2" y1="298.8" x2="515.3" y2="298.8" stroke="#555" stroke-width="1.0" />
<line x1="358.8" y1="199.39999999999998" x2="361.7" y2="199.39999999999998" stroke="#333" stroke-width="1.0" />
<text x="357.4" y="201.39999999999998" font-size="7.3" text-anchor="end" font-weight="normal" fill="#1e1e1e" stroke="#1e1e1e" stroke-width="0.25" >1.0</text>
<line x1="358.8" y1="244.79999999999998" x2="361.7" y2="244.79999999999998" stroke="#333" stroke-width="1.0" />
<text x="357.4" y="246.79999999999998" font-size="7.3" text-anchor="end" font-weight="normal" fill="#1e1e1e" stroke="#1e1e1e" stroke-width="0.25" >0.5</text>
<line x1="358.8" y1="290.2" x2="361.7" y2="290.2" stroke="#333" stroke-width="1.0" />
<text x="357.4" y="292.2" font-size="7.3" text-anchor="end" font-weight="normal" fill="#1e1e1e" stroke="#1e1e1e" stroke-width="0.25" >0.0</text>
<line x1="366.4" y1="298.8" x2="366.4" y2="301.8" stroke="#555" stroke-width="0.9" />
<line x1="415.9" y1="298.8" x2="415.9" y2="301.8" stroke="#555" stroke-width="0.9" />
<line x1="465.4" y1="298.8" x2="465.4" y2="301.8" stroke="#555" stroke-width="0.9" />
<line x1="514.9" y1="298.8" x2="514.9" y2="301.8" stroke="#555" stroke-width="0.9" />
<line x1="361.6029543561012" y1="298.8" x2="361.6029543561012" y2="300.8" stroke="#333" stroke-width="1.0" />
<line x1="364.13500421724655" y1="298.8" x2="364.13500421724655" y2="300.8" stroke="#333" stroke-width="1.0" />
<line x1="381.30098478536706" y1="298.8" x2="381.30098478536706" y2="300.8" stroke="#333" stroke-width="1.0" />
<line x1="390.01750210862326" y1="298.8" x2="390.01750210862326" y2="300.8" stroke="#333" stroke-width="1.0" />
<line x1="396.2019695707341" y1="298.8" x2="396.2019695707341" y2="300.8" stroke="#333" stroke-width="1.0" />
<line x1="400.9990152146329" y1="298.8" x2="400.9990152146329" y2="300.8" stroke="#333" stroke-width="1.0" />
<line x1="404.91848689399035" y1="298.8" x2="404.91848689399035" y2="300.8" stroke="#333" stroke-width="1.0" />
<line x1="408.2323529807057" y1="298.8" x2="408.2323529807057" y2="300.8" stroke="#333" stroke-width="1.0" />
<line x1="411.1029543561012" y1="298.8" x2="411.1029543561012" y2="300.8" stroke="#333" stroke-width="1.0" />
<line x1="413.63500421724655" y1="298.8" x2="413.63500421724655" y2="300.8" stroke="#333" stroke-width="1.0" />
<line x1="430.80098478536706" y1="298.8" x2="430.80098478536706" y2="300.8" stroke="#333" stroke-width="1.0" />
<line x1="439.51750210862326" y1="298.8" x2="439.51750210862326" y2="300.8" stroke="#333" stroke-width="1.0" />
<line x1="445.70196957073415" y1="298.8" x2="445.70196957073415" y2="300.8" stroke="#333" stroke-width="1.0" />
<line x1="450.4990152146329" y1="298.8" x2="450.4990152146329" y2="300.8" stroke="#333" stroke-width="1.0" />
<line x1="454.41848689399035" y1="298.8" x2="454.41848689399035" y2="300.8" stroke="#333" stroke-width="1.0" />
<line x1="457.7323529807057" y1="298.8" x2="457.7323529807057" y2="300.8" stroke="#333" stroke-width="1.0" />
<line x1="460.6029543561012" y1="298.8" x2="460.6029543561012" y2="300.8" stroke="#333" stroke-width="1.0" />
<line x1="463.13500421724655" y1="298.8" x2="463.13500421724655" y2="300.8" stroke="#333" stroke-width="1.0" />
<line x1="480.30098478536706" y1="298.8" x2="480.30098478536706" y2="300.8" stroke="#333" stroke-width="1.0" />
<line x1="489.01750210862326" y1="298.8" x2="489.01750210862326" y2="300.8" stroke="#333" stroke-width="1.0" />
<line x1="495.20196957073415" y1="298.8" x2="495.20196957073415" y2="300.8" stroke="#333" stroke-width="1.0" />
<line x1="499.9990152146329" y1="298.8" x2="499.9990152146329" y2="300.8" stroke="#333" stroke-width="1.0" />
<line x1="503.91848689399035" y1="298.8" x2="503.91848689399035" y2="300.8" stroke="#333" stroke-width="1.0" />
<line x1="507.2323529807057" y1="298.8" x2="507.2323529807057" y2="300.8" stroke="#333" stroke-width="1.0" />
<line x1="510.1029543561012" y1="298.8" x2="510.1029543561012" y2="300.8" stroke="#333" stroke-width="1.0" />
<line x1="512.6350042172465" y1="298.8" x2="512.6350042172465" y2="300.8" stroke="#333" stroke-width="1.0" />
<text x="360.4" y="311.2" font-size="7.0" text-anchor="start" font-weight="normal" fill="#1e1e1e" stroke="#1e1e1e" stroke-width="0.25" >10</text>
<text x="368.37" y="308.3" font-size="4.3" text-anchor="start" font-weight="normal" fill="#1e1e1e" stroke="#1e1e1e" stroke-width="0.25" >0</text>
<text x="409.9" y="311.2" font-size="7.0" text-anchor="start" font-weight="normal" fill="#1e1e1e" stroke="#1e1e1e" stroke-width="0.25" >10</text>
<text x="417.87" y="308.3" font-size="4.3" text-anchor="start" font-weight="normal" fill="#1e1e1e" stroke="#1e1e1e" stroke-width="0.25" >1</text>
<text x="459.4" y="311.2" font-size="7.0" text-anchor="start" font-weight="normal" fill="#1e1e1e" stroke="#1e1e1e" stroke-width="0.25" >10</text>
<text x="467.37" y="308.3" font-size="4.3" text-anchor="start" font-weight="normal" fill="#1e1e1e" stroke="#1e1e1e" stroke-width="0.25" >2</text>
<text x="508.9" y="311.2" font-size="7.0" text-anchor="start" font-weight="normal" fill="#1e1e1e" stroke="#1e1e1e" stroke-width="0.25" >10</text>
<text x="516.87" y="308.3" font-size="4.3" text-anchor="start" font-weight="normal" fill="#1e1e1e" stroke="#1e1e1e" stroke-width="0.25" >3</text>
<text x="423.5" y="320.4" font-size="7.2" text-anchor="start" font-weight="normal" fill="#1e1e1e" stroke="#1e1e1e" stroke-width="0.25" textLength="48.6" lengthAdjust="spacingAndGlyphs" >AZD8055 (nM)</text>
<text x="344.3" y="244.8" font-size="7.0" text-anchor="middle" font-weight="normal" fill="#1e1e1e" stroke="#1e1e1e" stroke-width="0.25" textLength="51.3" lengthAdjust="spacingAndGlyphs" transform="rotate(-90 344.3 244.8)">Relative viability</text>
<line x1="364.5" y1="290.5" x2="514" y2="290.5" stroke="#999" stroke-width="1.0" stroke-dasharray="1 2.1"/>
<path d="M366.40,206.27 L368.26,206.39 L370.11,206.51 L371.97,206.65 L373.82,206.80 L375.68,206.97 L377.54,207.15 L379.39,207.35 L381.25,207.56 L383.11,207.80 L384.96,208.05 L386.82,208.33 L388.67,208.64 L390.53,208.97 L392.39,209.32 L394.24,209.71 L396.10,210.13 L397.96,210.59 L399.81,211.08 L401.67,211.62 L403.52,212.19 L405.38,212.82 L407.24,213.48 L409.09,214.20 L410.95,214.97 L412.81,215.80 L414.66,216.68 L416.52,217.62 L418.38,218.62 L420.23,219.68 L422.09,220.80 L423.94,221.99 L425.80,223.24 L427.66,224.55 L429.51,225.92 L431.37,227.34 L433.22,228.83 L435.08,230.36 L436.94,231.95 L438.79,233.57 L440.65,235.24 L442.51,236.93 L444.36,238.66 L446.22,240.40 L448.07,242.15 L449.93,243.90 L451.79,245.65 L453.64,247.39 L455.50,249.12 L457.36,250.81 L459.21,252.48 L461.07,254.10 L462.92,255.69 L464.78,257.22 L466.64,258.71 L468.49,260.14 L470.35,261.51 L472.21,262.81 L474.06,264.06 L475.92,265.25 L477.77,266.37 L479.63,267.43 L481.49,268.43 L483.34,269.38 L485.20,270.26 L487.06,271.08 L488.91,271.85 L490.77,272.57 L492.62,273.24 L494.48,273.86 L496.34,274.44 L498.19,274.97 L500.05,275.47 L501.91,275.93 L503.76,276.35 L505.62,276.74 L507.48,277.09 L509.33,277.42 L511.19,277.73 L513.04,278.01 L514.90,278.26" fill="none" stroke="#c4d4f2" stroke-width="1.0" />
<path d="M366.40,201.93 L368.26,202.08 L370.11,202.25 L371.97,202.43 L373.82,202.62 L375.68,202.84 L377.54,203.08 L379.39,203.33 L381.25,203.61 L383.11,203.92 L384.96,204.25 L386.82,204.61 L388.67,205.00 L390.53,205.42 L392.39,205.88 L394.24,206.38 L396.10,206.92 L397.96,207.51 L399.81,208.13 L401.67,208.81 L403.52,209.54 L405.38,210.32 L407.24,211.16 L409.09,212.06 L410.95,213.02 L412.81,214.05 L414.66,215.13 L416.52,216.29 L418.38,217.51 L420.23,218.80 L422.09,220.15 L423.94,221.57 L425.80,223.05 L427.66,224.60 L429.51,226.20 L431.37,227.86 L433.22,229.57 L435.08,231.32 L436.94,233.12 L438.79,234.94 L440.65,236.80 L442.51,238.66 L444.36,240.54 L446.22,242.42 L448.07,244.30 L449.93,246.16 L451.79,248.00 L453.64,249.81 L455.50,251.59 L457.36,253.32 L459.21,255.00 L461.07,256.64 L462.92,258.21 L464.78,259.73 L466.64,261.18 L468.49,262.57 L470.35,263.89 L472.21,265.14 L474.06,266.33 L475.92,267.45 L477.77,268.50 L479.63,269.49 L481.49,270.42 L483.34,271.29 L485.20,272.10 L487.06,272.86 L488.91,273.56 L490.77,274.22 L492.62,274.82 L494.48,275.38 L496.34,275.90 L498.19,276.38 L500.05,276.82 L501.91,277.23 L503.76,277.61 L505.62,277.95 L507.48,278.27 L509.33,278.56 L511.19,278.83 L513.04,279.08 L514.90,279.30" fill="none" stroke="#7eeef6" stroke-width="1.1" />
<path d="M366.40,197.44 L368.26,197.59 L370.11,197.75 L371.97,197.93 L373.82,198.12 L375.68,198.34 L377.54,198.58 L379.39,198.84 L381.25,199.13 L383.11,199.45 L384.96,199.79 L386.82,200.17 L388.67,200.59 L390.53,201.05 L392.39,201.54 L394.24,202.09 L396.10,202.68 L397.96,203.32 L399.81,204.02 L401.67,204.78 L403.52,205.60 L405.38,206.49 L407.24,207.45 L409.09,208.48 L410.95,209.59 L412.81,210.77 L414.66,212.03 L416.52,213.37 L418.38,214.79 L420.23,216.29 L422.09,217.87 L423.94,219.53 L425.80,221.26 L427.66,223.06 L429.51,224.92 L431.37,226.84 L433.22,228.80 L435.08,230.81 L436.94,232.85 L438.79,234.91 L440.65,236.98 L442.51,239.05 L444.36,241.11 L446.22,243.16 L448.07,245.17 L449.93,247.14 L451.79,249.06 L453.64,250.93 L455.50,252.74 L457.36,254.47 L459.21,256.14 L461.07,257.73 L462.92,259.24 L464.78,260.67 L466.64,262.02 L468.49,263.29 L470.35,264.48 L472.21,265.59 L474.06,266.63 L475.92,267.59 L477.77,268.49 L479.63,269.32 L481.49,270.08 L483.34,270.79 L485.20,271.44 L487.06,272.04 L488.91,272.59 L490.77,273.09 L492.62,273.55 L494.48,273.97 L496.34,274.35 L498.19,274.70 L500.05,275.02 L501.91,275.32 L503.76,275.58 L505.62,275.82 L507.48,276.04 L509.33,276.24 L511.19,276.42 L513.04,276.59 L514.90,276.73" fill="none" stroke="#3c7a92" stroke-width="1.0" />
<path d="M366.40,205.42 L368.26,205.45 L370.11,205.49 L371.97,205.52 L373.82,205.56 L375.68,205.61 L377.54,205.66 L379.39,205.71 L381.25,205.78 L383.11,205.85 L384.96,205.93 L386.82,206.02 L388.67,206.12 L390.53,206.23 L392.39,206.36 L394.24,206.49 L396.10,206.65 L397.96,206.82 L399.81,207.02 L401.67,207.23 L403.52,207.48 L405.38,207.74 L407.24,208.04 L409.09,208.37 L410.95,208.74 L412.81,209.15 L414.66,209.60 L416.52,210.10 L418.38,210.65 L420.23,211.25 L422.09,211.92 L423.94,212.65 L425.80,213.45 L427.66,214.32 L429.51,215.27 L431.37,216.30 L433.22,217.41 L435.08,218.61 L436.94,219.89 L438.79,221.26 L440.65,222.71 L442.51,224.25 L444.36,225.87 L446.22,227.57 L448.07,229.33 L449.93,231.16 L451.79,233.03 L453.64,234.95 L455.50,236.90 L457.36,238.86 L459.21,240.83 L461.07,242.78 L462.92,244.72 L464.78,246.62 L466.64,248.48 L468.49,250.28 L470.35,252.01 L472.21,253.68 L474.06,255.27 L475.92,256.77 L477.77,258.19 L479.63,259.53 L481.49,260.77 L483.34,261.93 L485.20,263.01 L487.06,264.01 L488.91,264.92 L490.77,265.76 L492.62,266.53 L494.48,267.24 L496.34,267.88 L498.19,268.46 L500.05,268.99 L501.91,269.47 L503.76,269.90 L505.62,270.29 L507.48,270.64 L509.33,270.96 L511.19,271.25 L513.04,271.50 L514.90,271.73" fill="none" stroke="#e8a0a2" stroke-width="1.1" />
<path d="M366.40,200.96 L368.26,201.16 L370.11,201.36 L371.97,201.58 L373.82,201.82 L375.68,202.08 L377.54,202.36 L379.39,202.65 L381.25,202.97 L383.11,203.31 L384.96,203.68 L386.82,204.07 L388.67,204.49 L390.53,204.94 L392.39,205.42 L394.24,205.93 L396.10,206.48 L397.96,207.06 L399.81,207.67 L401.67,208.33 L403.52,209.02 L405.38,209.76 L407.24,210.53 L409.09,211.35 L410.95,212.21 L412.81,213.12 L414.66,214.07 L416.52,215.07 L418.38,216.11 L420.23,217.19 L422.09,218.32 L423.94,219.49 L425.80,220.70 L427.66,221.95 L429.51,223.23 L431.37,224.55 L433.22,225.90 L435.08,227.28 L436.94,228.68 L438.79,230.10 L440.65,231.54 L442.51,232.98 L444.36,234.44 L446.22,235.89 L448.07,237.35 L449.93,238.80 L451.79,240.23 L453.64,241.65 L455.50,243.05 L457.36,244.43 L459.21,245.77 L461.07,247.09 L462.92,248.38 L464.78,249.62 L466.64,250.83 L468.49,252.00 L470.35,253.12 L472.21,254.20 L474.06,255.24 L475.92,256.24 L477.77,257.18 L479.63,258.09 L481.49,258.95 L483.34,259.77 L485.20,260.54 L487.06,261.27 L488.91,261.96 L490.77,262.62 L492.62,263.23 L494.48,263.81 L496.34,264.35 L498.19,264.86 L500.05,265.34 L501.91,265.79 L503.76,266.20 L505.62,266.59 L507.48,266.96 L509.33,267.30 L511.19,267.62 L513.04,267.91 L514.90,268.19" fill="none" stroke="#82084a" stroke-width="1.1" />
<path d="M366.40,199.60 V211.60 M364.70,199.60 H368.10 M364.70,211.60 H368.10" stroke="#e8a0a2" stroke-width="0.85" fill="none"/>
<path d="M410.95,205.30 V211.30 M409.25,205.30 H412.65 M409.25,211.30 H412.65" stroke="#e8a0a2" stroke-width="0.85" fill="none"/>
<path d="M425.80,211.30 V217.30 M424.10,211.30 H427.50 M424.10,217.30 H427.50" stroke="#e8a0a2" stroke-width="0.85" fill="none"/>
<circle cx="366.40" cy="205.60" r="2.6" fill="#e8a0a2"/>
<circle cx="381.25" cy="205.60" r="2.6" fill="#e8a0a2"/>
<circle cx="396.10" cy="207.00" r="2.6" fill="#e8a0a2"/>
<circle cx="410.95" cy="208.30" r="2.6" fill="#e8a0a2"/>
<circle cx="425.80" cy="214.30" r="2.6" fill="#e8a0a2"/>
<circle cx="440.65" cy="220.80" r="2.6" fill="#e8a0a2"/>
<circle cx="455.50" cy="238.70" r="2.6" fill="#e8a0a2"/>
<circle cx="470.35" cy="251.50" r="2.6" fill="#e8a0a2"/>
<circle cx="485.20" cy="263.00" r="2.6" fill="#e8a0a2"/>
<circle cx="500.05" cy="267.80" r="2.6" fill="#e8a0a2"/>
<circle cx="514.90" cy="272.80" r="2.6" fill="#e8a0a2"/>
<path d="M381.25,206.60 V214.60 M379.55,206.60 H382.95 M379.55,214.60 H382.95" stroke="#c4d4f2" stroke-width="0.85" fill="none"/>
<path d="M396.10,204.25 V218.25 M394.40,204.25 H397.80 M394.40,218.25 H397.80" stroke="#c4d4f2" stroke-width="0.85" fill="none"/>
<path d="M425.80,217.00 V227.00 M424.10,217.00 H427.50 M424.10,227.00 H427.50" stroke="#c4d4f2" stroke-width="0.85" fill="none"/>
<circle cx="366.40" cy="203.00" r="2.6" fill="#c4d4f2"/>
<circle cx="381.25" cy="210.60" r="2.6" fill="#c4d4f2"/>
<circle cx="396.10" cy="211.25" r="2.6" fill="#c4d4f2"/>
<circle cx="425.80" cy="222.00" r="2.6" fill="#c4d4f2"/>
<circle cx="440.65" cy="235.00" r="2.6" fill="#c4d4f2"/>
<circle cx="455.50" cy="250.40" r="2.6" fill="#c4d4f2"/>
<circle cx="470.35" cy="260.20" r="2.6" fill="#c4d4f2"/>
<circle cx="485.20" cy="271.00" r="2.6" fill="#c4d4f2"/>
<circle cx="500.05" cy="276.00" r="2.6" fill="#c4d4f2"/>
<circle cx="514.90" cy="277.60" r="2.6" fill="#c4d4f2"/>
<circle cx="366.40" cy="203.00" r="2.5" fill="#7eeef6"/>
<circle cx="396.10" cy="205.00" r="2.5" fill="#7eeef6"/>
<circle cx="425.80" cy="224.50" r="2.5" fill="#7eeef6"/>
<circle cx="440.65" cy="236.30" r="2.5" fill="#7eeef6"/>
<circle cx="455.50" cy="252.00" r="2.5" fill="#7eeef6"/>
<circle cx="470.35" cy="262.00" r="2.5" fill="#7eeef6"/>
<circle cx="485.20" cy="273.90" r="2.5" fill="#7eeef6"/>
<circle cx="500.05" cy="277.00" r="2.5" fill="#7eeef6"/>
<circle cx="514.90" cy="278.70" r="2.5" fill="#7eeef6"/>
<path d="M366.40,192.60 V203.60 M364.70,192.60 H368.10 M364.70,203.60 H368.10" stroke="#3c7a92" stroke-width="0.85" fill="none"/>
<path d="M381.25,188.20 V208.80 M379.55,188.20 H382.95 M379.55,208.80 H382.95" stroke="#3c7a92" stroke-width="0.85" fill="none"/>
<path d="M396.10,196.90 V208.10 M394.40,196.90 H397.80 M394.40,208.10 H397.80" stroke="#3c7a92" stroke-width="0.85" fill="none"/>
<circle cx="366.40" cy="198.10" r="2.5" fill="#3c7a92"/>
<circle cx="381.25" cy="198.50" r="2.5" fill="#3c7a92"/>
<circle cx="396.10" cy="202.50" r="2.5" fill="#3c7a92"/>
<circle cx="425.80" cy="222.00" r="2.5" fill="#3c7a92"/>
<circle cx="440.65" cy="235.00" r="2.5" fill="#3c7a92"/>
<circle cx="455.50" cy="255.90" r="2.5" fill="#3c7a92"/>
<circle cx="470.35" cy="262.00" r="2.5" fill="#3c7a92"/>
<circle cx="485.20" cy="272.00" r="2.5" fill="#3c7a92"/>
<circle cx="500.05" cy="274.30" r="2.5" fill="#3c7a92"/>
<circle cx="514.90" cy="277.60" r="2.5" fill="#3c7a92"/>
<path d="M366.40,195.50 V207.50 M364.70,195.50 H368.10 M364.70,207.50 H368.10" stroke="#82084a" stroke-width="0.85" fill="none"/>
<path d="M425.80,216.50 V222.50 M424.10,216.50 H427.50 M424.10,222.50 H427.50" stroke="#82084a" stroke-width="0.85" fill="none"/>
<circle cx="366.40" cy="201.50" r="2.5" fill="#82084a"/>
<circle cx="381.25" cy="202.50" r="2.5" fill="#82084a"/>
<circle cx="396.10" cy="206.00" r="2.5" fill="#82084a"/>
<circle cx="410.95" cy="213.30" r="2.5" fill="#82084a"/>
<circle cx="425.80" cy="219.50" r="2.5" fill="#82084a"/>
<circle cx="440.65" cy="231.40" r="2.5" fill="#82084a"/>
<circle cx="455.50" cy="245.00" r="2.5" fill="#82084a"/>
<circle cx="470.35" cy="251.50" r="2.5" fill="#82084a"/>
<circle cx="485.20" cy="260.90" r="2.5" fill="#82084a"/>
<circle cx="500.05" cy="264.60" r="2.5" fill="#82084a"/>
<circle cx="514.90" cy="268.90" r="2.5" fill="#82084a"/>
<line x1="366.3" y1="243.6" x2="376.09999999999997" y2="243.6" stroke="#c4d4f2" stroke-width="1.1" />
<circle cx="371.2" cy="243.6" r="2.3" fill="#c4d4f2"/>
<text x="378.6" y="245.9" font-size="6.6" text-anchor="start" font-weight="normal" fill="#1e1e1e" stroke="#1e1e1e" stroke-width="0.12" textLength="30.0" lengthAdjust="spacingAndGlyphs" >11SJK325</text>
<line x1="366.3" y1="252.6" x2="376.09999999999997" y2="252.6" stroke="#3c7a92" stroke-width="1.1" />
<circle cx="371.2" cy="252.6" r="2.3" fill="#3c7a92"/>
<text x="378.6" y="254.9" font-size="6.6" text-anchor="start" font-weight="normal" fill="#1e1e1e" stroke="#1e1e1e" stroke-width="0.12" textLength="30.0" lengthAdjust="spacingAndGlyphs" >12SJK010</text>
<line x1="366.3" y1="261.1" x2="376.09999999999997" y2="261.1" stroke="#7eeef6" stroke-width="1.1" />
<circle cx="371.2" cy="261.1" r="2.3" fill="#7eeef6"/>
<text x="378.6" y="263.4" font-size="6.6" text-anchor="start" font-weight="normal" fill="#1e1e1e" stroke="#1e1e1e" stroke-width="0.12" textLength="30.0" lengthAdjust="spacingAndGlyphs" >12SJK011</text>
<line x1="366.3" y1="272.9" x2="376.09999999999997" y2="272.9" stroke="#e8a0a2" stroke-width="1.1" />
<circle cx="371.2" cy="272.9" r="2.3" fill="#e8a0a2"/>
<text x="378.6" y="275.2" font-size="6.6" text-anchor="start" font-weight="normal" fill="#1e1e1e" stroke="#1e1e1e" stroke-width="0.12" textLength="30.0" lengthAdjust="spacingAndGlyphs" >12SJK064</text>
<line x1="366.3" y1="281.6" x2="376.09999999999997" y2="281.6" stroke="#82084a" stroke-width="1.1" />
<circle cx="371.2" cy="281.6" r="2.3" fill="#82084a"/>
<text x="378.6" y="283.9" font-size="6.6" text-anchor="start" font-weight="normal" fill="#1e1e1e" stroke="#1e1e1e" stroke-width="0.12" textLength="30.0" lengthAdjust="spacingAndGlyphs" >12SJK069</text>
<line x1="410.8" y1="238.8" x2="410.8" y2="264.9" stroke="#6060b4" stroke-width="1.2" />
<line x1="410.8" y1="270.0" x2="410.8" y2="285.9" stroke="#c04858" stroke-width="1.2" />
<text x="412.9" y="255.7" font-size="6.6" text-anchor="start" font-weight="normal" fill="#1e1e1e" stroke="#1e1e1e" stroke-width="0.12" textLength="21.0" lengthAdjust="spacingAndGlyphs" >Control</text>
<text x="412.9" y="279.3" font-size="6.6" text-anchor="start" font-weight="normal" fill="#1e1e1e" stroke="#1e1e1e" stroke-width="0.12" textLength="27.8" lengthAdjust="spacingAndGlyphs" >Resistant</text>
</svg></body></html>
